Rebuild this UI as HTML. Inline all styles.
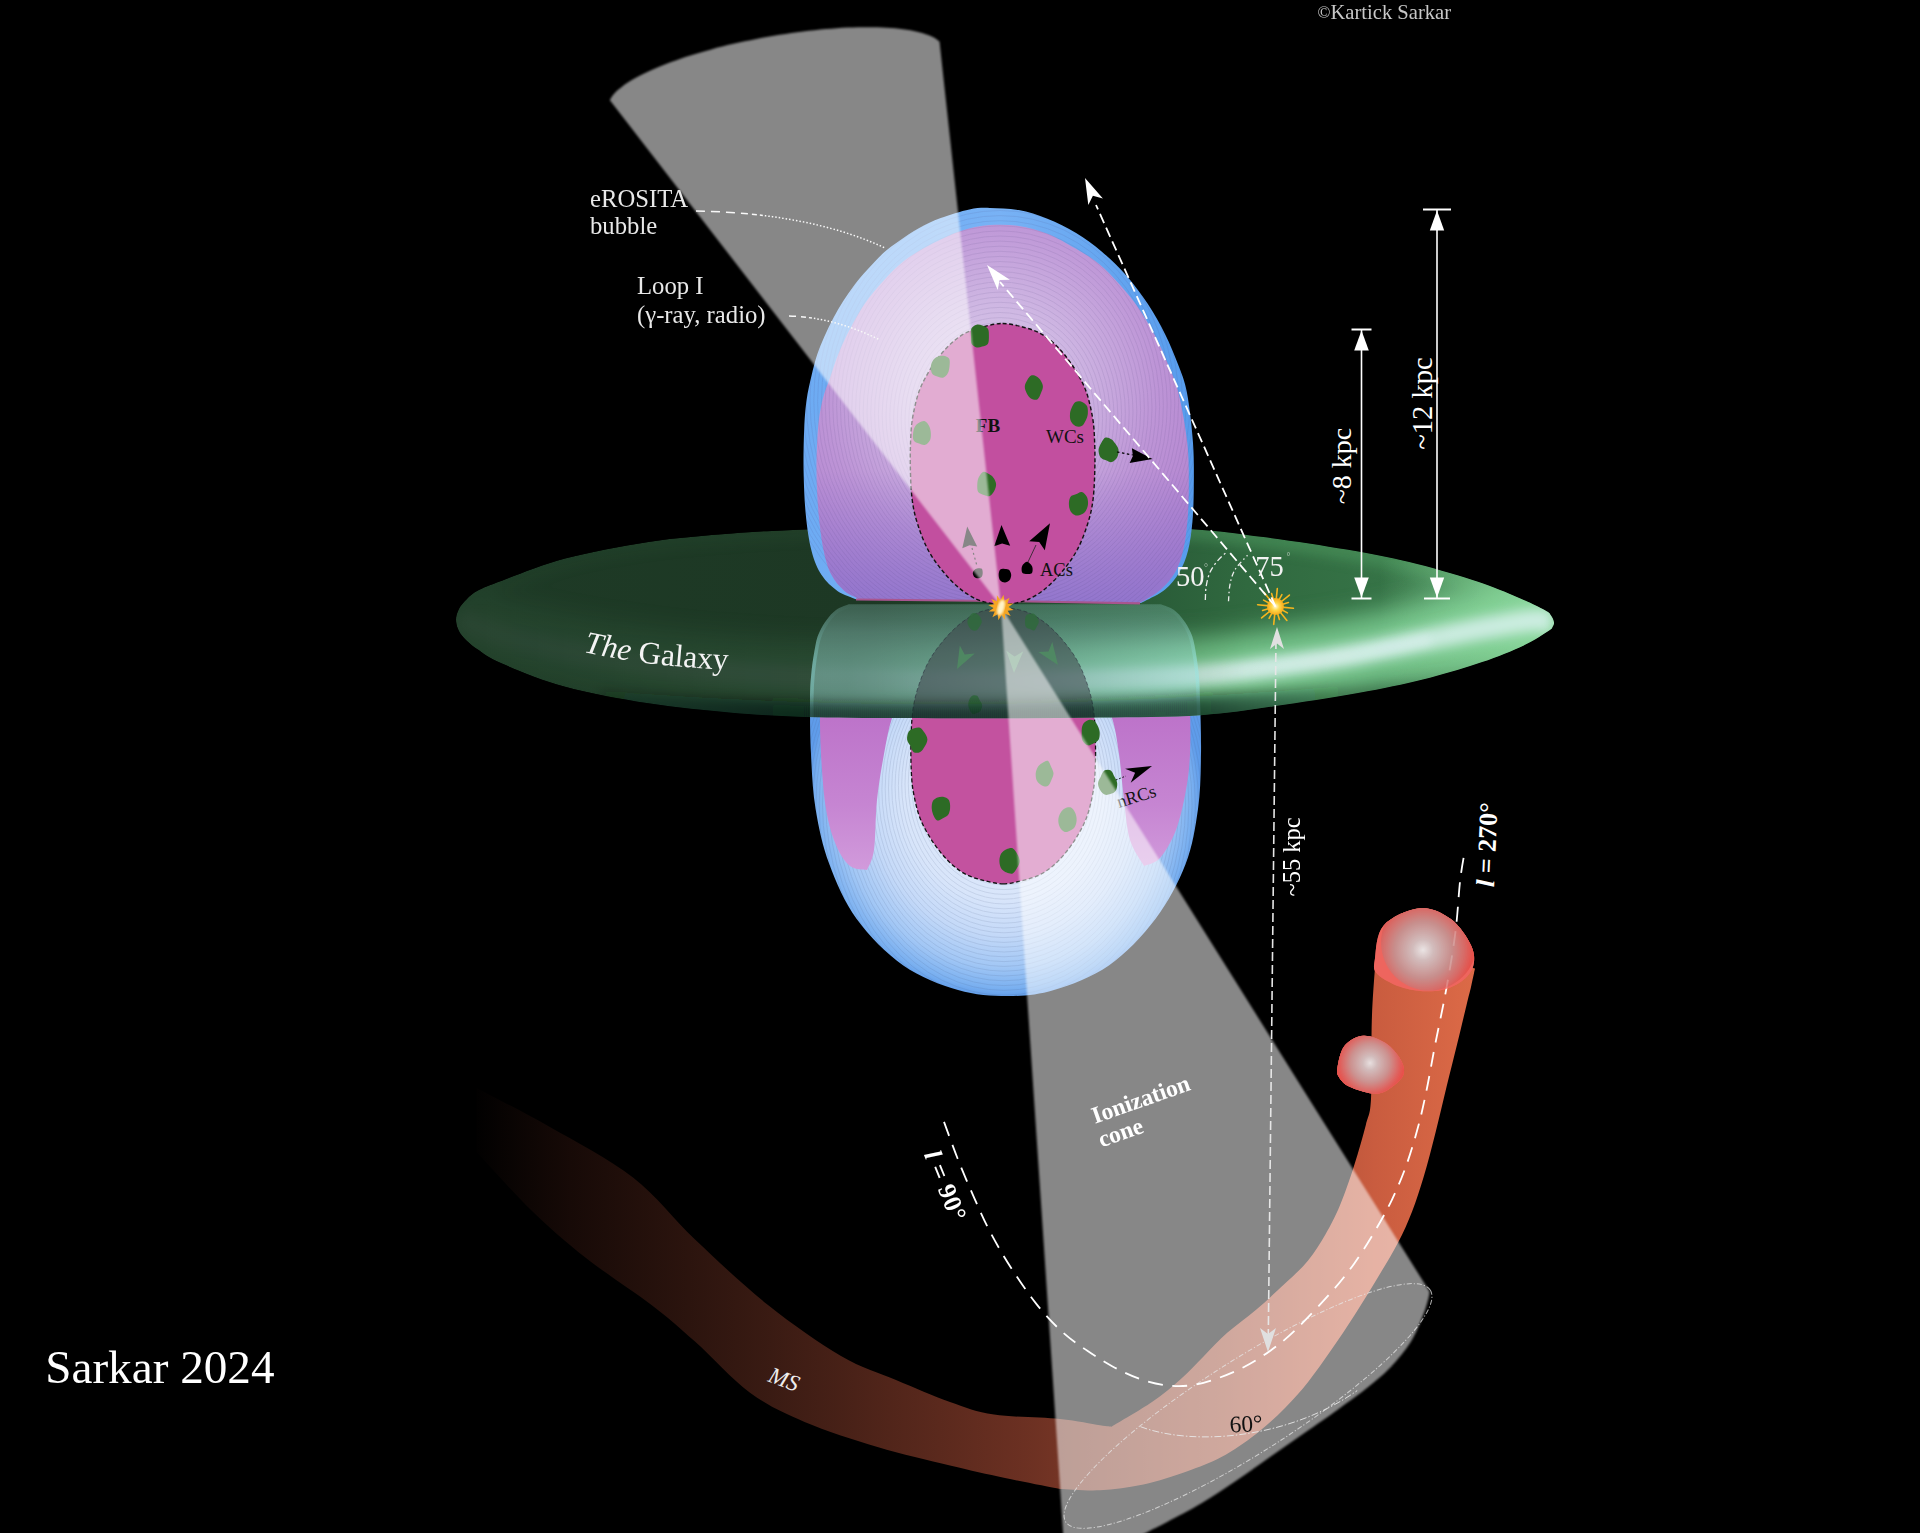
<!DOCTYPE html>
<html><head><meta charset="utf-8"><title>Fermi/eROSITA bubbles schematic</title>
<style>
html,body{margin:0;padding:0;background:#000;}
body{width:1920px;height:1533px;overflow:hidden;}
svg{display:block}
text{font-family:"Liberation Serif",serif;}
</style></head><body>
<svg width="1920" height="1533" viewBox="0 0 1920 1533">
<defs>

<radialGradient id="gPurple" gradientUnits="userSpaceOnUse" cx="990" cy="385" r="260">
 <stop offset="0" stop-color="#dccfec"/>
 <stop offset="0.3" stop-color="#cfb8e3"/>
 <stop offset="0.65" stop-color="#bd94d6"/>
 <stop offset="1" stop-color="#b07fce"/>
</radialGradient>
<linearGradient id="gPurpleBot" gradientUnits="userSpaceOnUse" x1="0" y1="470" x2="0" y2="605">
 <stop offset="0" stop-color="#8a72cc" stop-opacity="0"/>
 <stop offset="1" stop-color="#8a72cc" stop-opacity="0.8"/>
</linearGradient>
<linearGradient id="gBlueUp" gradientUnits="userSpaceOnUse" x1="800" y1="0" x2="1200" y2="0">
 <stop offset="0" stop-color="#6dabf3"/>
 <stop offset="0.5" stop-color="#78b2f5"/>
 <stop offset="1" stop-color="#559bec"/>
</linearGradient>
<radialGradient id="gBlueLow" gradientUnits="userSpaceOnUse" cx="1004" cy="800" r="198">
 <stop offset="0" stop-color="#e2ecfb"/>
 <stop offset="0.5" stop-color="#d8e5fa"/>
 <stop offset="0.68" stop-color="#c4d9f8"/>
 <stop offset="0.84" stop-color="#a2c7f5"/>
 <stop offset="0.95" stop-color="#7ab0f0"/>
 <stop offset="1" stop-color="#5f9cea"/>
</radialGradient>
<linearGradient id="gLobe" gradientUnits="userSpaceOnUse" x1="0" y1="700" x2="0" y2="875">
 <stop offset="0" stop-color="#bb70c8"/>
 <stop offset="0.6" stop-color="#c685d2"/>
 <stop offset="1" stop-color="#d29cdc"/>
</linearGradient>
<linearGradient id="gDiskBase" gradientUnits="userSpaceOnUse" x1="455" y1="0" x2="1555" y2="0">
 <stop offset="0" stop-color="#1e3a26"/>
 <stop offset="0.38" stop-color="#1d3824"/>
 <stop offset="0.55" stop-color="#245032"/>
 <stop offset="0.72" stop-color="#30693f"/>
 <stop offset="1" stop-color="#3d8050"/>
</linearGradient>
<linearGradient id="gDiskV" gradientUnits="userSpaceOnUse" x1="0" y1="528" x2="0" y2="716">
 <stop offset="0" stop-color="#4c9860" stop-opacity="0.5"/>
 <stop offset="0.2" stop-color="#2e6540" stop-opacity="0"/>
 <stop offset="0.4" stop-color="#3c8050" stop-opacity="0.2"/>
 <stop offset="0.6" stop-color="#62b078" stop-opacity="0.85"/>
 <stop offset="0.85" stop-color="#6ab880" stop-opacity="1"/>
 <stop offset="1" stop-color="#4a9060" stop-opacity="1"/>
</linearGradient>
<linearGradient id="gDiskMask" gradientUnits="userSpaceOnUse" x1="455" y1="0" x2="1555" y2="0">
 <stop offset="0" stop-color="#fff" stop-opacity="0.06"/>
 <stop offset="0.36" stop-color="#fff" stop-opacity="0.12"/>
 <stop offset="0.55" stop-color="#fff" stop-opacity="0.5"/>
 <stop offset="0.72" stop-color="#fff" stop-opacity="0.95"/>
 <stop offset="1" stop-color="#fff" stop-opacity="1"/>
</linearGradient>
<mask id="mDiskLight" maskUnits="userSpaceOnUse" x="440" y="500" width="1130" height="240"><rect x="440" y="500" width="1130" height="240" fill="url(#gDiskMask)"/></mask>
<radialGradient id="gDisk" cx="0.5" cy="0.5" r="0.5" fx="0.5" fy="0.2">
 <stop offset="0" stop-color="#2f6a42"/>
 <stop offset="0.45" stop-color="#2f6a42"/>
 <stop offset="0.62" stop-color="#4f9a64"/>
 <stop offset="0.76" stop-color="#9dd8b2"/>
 <stop offset="0.82" stop-color="#c2ebda"/>
 <stop offset="0.90" stop-color="#78c48c"/>
 <stop offset="1" stop-color="#4a9060"/>
</radialGradient>
<linearGradient id="gDiskDark" gradientUnits="userSpaceOnUse" x1="455" y1="0" x2="1555" y2="0">
 <stop offset="0" stop-color="#000" stop-opacity="0.45"/>
 <stop offset="0.35" stop-color="#000" stop-opacity="0.50"/>
 <stop offset="0.62" stop-color="#000" stop-opacity="0.25"/>
 <stop offset="0.8" stop-color="#000" stop-opacity="0"/>
</linearGradient>
<linearGradient id="gMS" gradientUnits="userSpaceOnUse" x1="470" y1="0" x2="1475" y2="0">
 <stop offset="0" stop-color="#000000"/>
 <stop offset="0.1" stop-color="#170a07"/>
 <stop offset="0.3" stop-color="#3a1b13"/>
 <stop offset="0.55" stop-color="#6b3022"/>
 <stop offset="0.75" stop-color="#9a4630"/>
 <stop offset="0.9" stop-color="#c95c3f"/>
 <stop offset="1" stop-color="#dc6a47"/>
</linearGradient>
<radialGradient id="gClump" cx="0.55" cy="0.45" r="0.55">
 <stop offset="0" stop-color="#d8d2d2"/>
 <stop offset="0.35" stop-color="#c9a9a8"/>
 <stop offset="0.7" stop-color="#dc6a64"/>
 <stop offset="1" stop-color="#e6453f"/>
</radialGradient>
<radialGradient id="gClump1" gradientUnits="userSpaceOnUse" cx="1423" cy="950" r="52">
 <stop offset="0" stop-color="#ebe4e4"/>
 <stop offset="0.2" stop-color="#d2bcbc"/>
 <stop offset="0.55" stop-color="#c88e8c"/>
 <stop offset="0.8" stop-color="#d86a66"/>
 <stop offset="0.95" stop-color="#e4504a" stop-opacity="0.9"/>
 <stop offset="1" stop-color="#e84a44" stop-opacity="0.6"/>
</radialGradient>
<radialGradient id="gClump2" gradientUnits="userSpaceOnUse" cx="1370" cy="1063" r="35">
 <stop offset="0" stop-color="#e8e0e0"/>
 <stop offset="0.2" stop-color="#d2bcbc"/>
 <stop offset="0.55" stop-color="#cc9290"/>
 <stop offset="0.85" stop-color="#e0605c"/>
 <stop offset="1" stop-color="#e84a44" stop-opacity="0.8"/>
</radialGradient>
<linearGradient id="gSeeThru" gradientUnits="userSpaceOnUse" x1="0" y1="603" x2="0" y2="720">
 <stop offset="0" stop-color="#a4e4e0" stop-opacity="0.22"/>
 <stop offset="0.25" stop-color="#a4e4e0" stop-opacity="0.36"/>
 <stop offset="0.6" stop-color="#a4e4e0" stop-opacity="0.44"/>
 <stop offset="1" stop-color="#a4e4e0" stop-opacity="0.40"/>
</linearGradient>
<linearGradient id="gSeeRim" gradientUnits="userSpaceOnUse" x1="0" y1="603" x2="0" y2="720">
 <stop offset="0" stop-color="#8fe6e6" stop-opacity="0"/>
 <stop offset="0.2" stop-color="#8fe6e6" stop-opacity="0.08"/>
 <stop offset="0.5" stop-color="#8fe6e6" stop-opacity="0.32"/>
 <stop offset="1" stop-color="#8fe6e6" stop-opacity="0.32"/>
</linearGradient>
<radialGradient id="gSun" cx="0.5" cy="0.5" r="0.5">
 <stop offset="0" stop-color="#fffbe0"/>
 <stop offset="0.45" stop-color="#ffd84a"/>
 <stop offset="1" stop-color="#f5a81a"/>
</radialGradient>
<filter id="fBlur2" x="-5%" y="-5%" width="110%" height="110%"><feGaussianBlur stdDeviation="1.3"/></filter>
<filter id="fBlur1" x="-5%" y="-5%" width="110%" height="110%"><feGaussianBlur stdDeviation="0.8"/></filter>
<filter id="fBlur12" filterUnits="userSpaceOnUse" x="380" y="460" width="1260" height="330"><feGaussianBlur stdDeviation="12"/></filter>
<filter id="fBlurBand" filterUnits="userSpaceOnUse" x="500" y="600" width="1100" height="200"><feGaussianBlur stdDeviation="6"/></filter>
<linearGradient id="gDarkBand" gradientUnits="userSpaceOnUse" x1="600" y1="0" x2="1480" y2="0">
 <stop offset="0" stop-color="#0a1a16" stop-opacity="0.2"/>
 <stop offset="0.22" stop-color="#0a1a16" stop-opacity="0.6"/>
 <stop offset="0.68" stop-color="#0a1a16" stop-opacity="0.6"/>
 <stop offset="0.85" stop-color="#0a1a16" stop-opacity="0.15"/>
 <stop offset="1" stop-color="#0a1a16" stop-opacity="0"/>
</linearGradient>
<filter id="fBlur5" filterUnits="userSpaceOnUse" x="380" y="460" width="1260" height="330"><feGaussianBlur stdDeviation="4.5"/></filter>
<linearGradient id="gDiskTip" gradientUnits="userSpaceOnUse" x1="1380" y1="0" x2="1556" y2="0">
 <stop offset="0" stop-color="#8fdca0" stop-opacity="0"/>
 <stop offset="0.6" stop-color="#8fdca0" stop-opacity="0.55"/>
 <stop offset="1" stop-color="#8fdca0" stop-opacity="0.9"/>
</linearGradient>
<filter id="fBlur6" filterUnits="userSpaceOnUse" x="380" y="460" width="1260" height="330"><feGaussianBlur stdDeviation="6"/></filter>
<clipPath id="cpDisk"><path d="M456.0,619.8 C456.0,616.8 456.7,614.0 458.0,611.0 C459.3,608.0 460.8,605.3 464.0,602.0 C467.2,598.7 470.6,594.6 477.0,591.0 C483.4,587.4 487.8,585.8 502.5,580.4 C517.2,575.0 540.7,564.9 565.0,558.5 C589.3,552.1 620.5,546.1 648.3,541.9 C676.1,537.7 705.7,535.6 731.7,533.5 C757.8,531.4 776.6,530.4 804.6,529.4 C832.6,528.4 867.4,527.7 900.0,527.3 C932.6,526.9 966.7,527.0 1000.0,527.0 C1033.3,527.0 1067.9,527.2 1100.0,527.6 C1132.1,528.0 1165.3,527.6 1192.5,529.2 C1219.7,530.8 1237.6,533.7 1263.3,537.1 C1289.0,540.5 1322.4,545.4 1346.7,549.6 C1371.0,553.8 1388.4,557.1 1409.2,562.1 C1430.0,567.1 1454.4,574.2 1471.7,579.8 C1489.0,585.3 1501.2,590.4 1513.3,595.4 C1525.4,600.4 1538.3,606.6 1544.6,610.0 C1550.9,613.4 1549.4,613.4 1551.0,615.5 C1552.6,617.6 1553.8,620.6 1554.0,622.5 C1554.2,624.4 1553.4,625.6 1552.5,627.0 C1551.6,628.4 1553.6,627.7 1548.8,630.8 C1544.0,633.9 1534.9,640.2 1523.8,645.4 C1512.7,650.6 1497.7,656.7 1482.1,662.1 C1466.5,667.5 1449.1,672.8 1430.0,677.7 C1410.9,682.6 1391.8,686.8 1367.5,691.3 C1343.2,695.8 1312.0,700.8 1284.2,704.8 C1256.4,708.8 1231.5,713.1 1200.8,715.2 C1170.1,717.3 1133.5,717.1 1100.0,717.6 C1066.5,718.1 1033.3,718.1 1000.0,718.2 C966.7,718.3 932.6,718.2 900.0,718.0 C867.4,717.8 832.6,717.8 804.6,716.9 C776.6,716.0 757.8,715.0 731.7,712.7 C705.7,710.4 676.1,707.6 648.3,703.3 C620.5,699.0 589.3,693.3 565.0,686.7 C540.7,680.1 517.2,670.1 502.5,663.8 C487.8,657.5 483.4,653.3 477.0,649.0 C470.6,644.7 467.2,641.3 464.0,638.0 C460.8,634.7 459.3,632.0 458.0,629.0 C456.7,626.0 456.0,622.8 456.0,619.8Z"/></clipPath>
<clipPath id="cpLB"><path d="M848.5,604.3 C846.4,605.2 839.6,607.4 836.0,610.0 C832.4,612.6 829.4,616.3 826.6,620.0 C823.9,623.7 821.3,627.9 819.5,632.0 C817.7,636.1 816.9,638.1 815.6,644.8 C814.3,651.5 812.4,662.8 811.5,672.0 C810.6,681.2 810.1,686.3 810.0,700.0 C809.9,713.7 810.1,735.8 811.0,754.0 C811.9,772.2 812.6,790.7 815.6,809.0 C818.6,827.3 822.4,845.7 829.3,864.0 C836.1,882.3 844.4,902.0 856.7,918.9 C869.0,935.8 886.4,953.5 903.3,965.4 C920.2,977.2 940.6,984.9 958.0,990.0 C975.4,995.1 991.5,996.0 1007.5,996.0 C1023.5,996.0 1037.1,995.1 1054.0,990.0 C1070.9,984.9 1092.0,977.2 1108.9,965.4 C1125.8,953.5 1142.6,935.8 1155.4,918.9 C1168.2,902.0 1178.5,882.3 1185.6,864.0 C1192.7,845.7 1195.4,827.3 1198.0,809.0 C1200.6,790.7 1200.7,772.2 1201.0,754.0 C1201.3,735.8 1200.4,713.7 1200.0,700.0 C1199.6,686.3 1199.4,681.2 1198.5,672.0 C1197.6,662.8 1195.7,651.5 1194.4,644.8 C1193.1,638.1 1192.3,636.1 1190.5,632.0 C1188.7,627.9 1186.2,623.7 1183.4,620.0 C1180.7,616.3 1177.7,612.6 1174.0,610.0 C1170.3,607.4 1163.2,605.2 1161.0,604.3Z"/></clipPath>
<clipPath id="cpUBo"><path d="M856.0,599.2 C852.9,597.8 843.1,594.9 837.4,590.9 C831.7,586.9 825.9,581.8 821.6,575.1 C817.3,568.4 814.1,560.8 811.5,550.7 C808.9,540.7 807.1,527.9 805.8,514.8 C804.5,501.6 803.9,486.1 803.6,471.8 C803.3,457.5 803.7,440.7 804.2,428.7 C804.7,416.7 805.4,408.8 806.6,400.0 C807.8,391.2 809.7,383.4 811.5,375.8 C813.3,368.2 815.1,360.9 817.3,354.3 C819.4,347.7 821.8,342.4 824.4,336.4 C827.0,330.4 830.0,324.3 833.1,318.4 C836.2,312.5 839.5,306.8 843.1,301.2 C846.7,295.6 850.5,290.0 854.6,284.7 C858.7,279.4 862.7,274.9 867.5,269.6 C872.3,264.3 878.0,257.9 883.3,253.1 C888.6,248.3 893.1,245.1 899.1,240.9 C905.1,236.7 912.3,231.8 919.2,228.0 C926.1,224.2 932.3,221.1 940.7,218.0 C949.1,214.9 961.2,211.1 969.4,209.4 C977.6,207.7 981.8,207.8 990.0,207.9 C998.2,208.0 1009.1,208.3 1018.7,210.1 C1028.3,211.9 1037.8,214.9 1047.4,218.7 C1057.0,222.5 1067.0,227.5 1076.1,233.0 C1085.2,238.5 1093.5,244.6 1101.9,251.7 C1110.3,258.8 1118.6,266.7 1126.3,275.4 C1134.0,284.1 1141.4,294.3 1147.9,304.1 C1154.4,313.9 1160.1,324.2 1165.1,334.2 C1170.1,344.2 1174.3,354.5 1178.0,364.3 C1181.7,374.1 1184.5,379.9 1187.0,393.0 C1189.5,406.1 1191.9,427.5 1193.0,443.0 C1194.1,458.5 1193.9,472.9 1193.8,486.1 C1193.7,499.3 1193.4,511.2 1192.4,522.0 C1191.4,532.8 1190.2,542.3 1188.0,550.7 C1185.8,559.1 1183.2,565.8 1179.4,572.2 C1175.6,578.7 1170.8,584.6 1165.1,589.4 C1159.4,594.2 1149.3,598.6 1145.0,600.9 C1140.7,603.2 1140.2,602.9 1139.3,603.3Z"/></clipPath>
<clipPath id="cpUBp"><path d="M860.0,599.2 C857.4,597.8 849.2,594.9 844.5,590.9 C839.8,586.9 835.1,581.8 831.6,575.1 C828.1,568.4 825.9,560.8 823.7,550.7 C821.6,540.7 819.9,527.9 818.7,514.8 C817.5,501.6 816.6,486.1 816.5,471.8 C816.4,457.5 817.0,440.7 818.0,428.7 C819.0,416.7 820.5,408.6 822.5,400.0 C824.5,391.4 827.5,385.2 830.2,377.3 C832.9,369.4 835.4,361.0 838.8,352.9 C842.1,344.8 846.0,336.6 850.3,328.5 C854.6,320.4 859.1,312.0 864.6,304.1 C870.1,296.2 876.6,288.4 883.3,281.1 C890.0,273.8 896.4,266.6 904.8,260.3 C913.2,254.0 924.2,248.0 933.5,243.1 C942.8,238.2 951.4,233.9 960.8,230.9 C970.2,227.9 980.4,225.9 990.0,225.1 C999.6,224.3 1009.1,224.5 1018.7,225.9 C1028.3,227.3 1037.8,229.9 1047.4,233.7 C1057.0,237.5 1067.5,243.8 1076.1,248.8 C1084.7,253.8 1091.9,258.0 1099.1,263.9 C1106.3,269.8 1112.8,276.8 1119.2,284.0 C1125.7,291.2 1131.8,298.3 1137.8,306.9 C1143.8,315.5 1150.0,326.0 1155.0,335.6 C1160.0,345.2 1164.1,354.7 1168.0,364.3 C1171.9,373.9 1175.3,379.9 1178.5,393.0 C1181.7,406.1 1185.6,427.5 1187.3,443.0 C1189.0,458.5 1188.8,472.9 1188.8,486.1 C1188.8,499.3 1188.3,511.2 1187.3,522.0 C1186.3,532.8 1185.0,542.3 1183.0,550.7 C1181.0,559.1 1178.8,565.8 1175.1,572.2 C1171.4,578.7 1166.3,584.5 1160.8,589.4 C1155.3,594.3 1145.9,599.3 1142.1,601.6 C1138.3,603.9 1138.7,603.0 1138.0,603.3Z"/></clipPath>
</defs>
<rect width="1920" height="1533" fill="#000"/>
<g id="lb">
<path d="M848.5,604.3 C846.4,605.2 839.6,607.4 836.0,610.0 C832.4,612.6 829.4,616.3 826.6,620.0 C823.9,623.7 821.3,627.9 819.5,632.0 C817.7,636.1 816.9,638.1 815.6,644.8 C814.3,651.5 812.4,662.8 811.5,672.0 C810.6,681.2 810.1,686.3 810.0,700.0 C809.9,713.7 810.1,735.8 811.0,754.0 C811.9,772.2 812.6,790.7 815.6,809.0 C818.6,827.3 822.4,845.7 829.3,864.0 C836.1,882.3 844.4,902.0 856.7,918.9 C869.0,935.8 886.4,953.5 903.3,965.4 C920.2,977.2 940.6,984.9 958.0,990.0 C975.4,995.1 991.5,996.0 1007.5,996.0 C1023.5,996.0 1037.1,995.1 1054.0,990.0 C1070.9,984.9 1092.0,977.2 1108.9,965.4 C1125.8,953.5 1142.6,935.8 1155.4,918.9 C1168.2,902.0 1178.5,882.3 1185.6,864.0 C1192.7,845.7 1195.4,827.3 1198.0,809.0 C1200.6,790.7 1200.7,772.2 1201.0,754.0 C1201.3,735.8 1200.4,713.7 1200.0,700.0 C1199.6,686.3 1199.4,681.2 1198.5,672.0 C1197.6,662.8 1195.7,651.5 1194.4,644.8 C1193.1,638.1 1192.3,636.1 1190.5,632.0 C1188.7,627.9 1186.2,623.7 1183.4,620.0 C1180.7,616.3 1177.7,612.6 1174.0,610.0 C1170.3,607.4 1163.2,605.2 1161.0,604.3Z" fill="url(#gBlueLow)"/>
<g clip-path="url(#cpLB)" fill="none" stroke="#4a5a80" stroke-width="1" opacity="0.13">
<ellipse cx="1004" cy="764.8" rx="19.8" ry="24.0"/><ellipse cx="1004" cy="765.6" rx="23.1" ry="28.0"/><ellipse cx="1004" cy="766.4" rx="26.4" ry="32.0"/><ellipse cx="1004" cy="767.2" rx="29.7" ry="36.0"/><ellipse cx="1004" cy="768.0" rx="33.0" ry="40.0"/><ellipse cx="1004" cy="768.8" rx="36.3" ry="44.0"/><ellipse cx="1004" cy="769.6" rx="39.6" ry="48.0"/><ellipse cx="1004" cy="770.4" rx="42.9" ry="52.0"/><ellipse cx="1004" cy="771.2" rx="46.2" ry="56.0"/><ellipse cx="1004" cy="772.0" rx="49.5" ry="60.0"/><ellipse cx="1004" cy="772.8" rx="52.8" ry="64.0"/><ellipse cx="1004" cy="773.6" rx="56.1" ry="68.0"/><ellipse cx="1004" cy="774.4" rx="59.4" ry="72.0"/><ellipse cx="1004" cy="775.2" rx="62.7" ry="76.0"/><ellipse cx="1004" cy="776.0" rx="66.0" ry="80.0"/><ellipse cx="1004" cy="776.8" rx="69.3" ry="84.0"/><ellipse cx="1004" cy="777.6" rx="72.6" ry="88.0"/><ellipse cx="1004" cy="778.4" rx="75.9" ry="92.0"/><ellipse cx="1004" cy="779.2" rx="79.2" ry="96.0"/><ellipse cx="1004" cy="780.0" rx="82.5" ry="100.0"/><ellipse cx="1004" cy="780.8" rx="85.8" ry="104.0"/><ellipse cx="1004" cy="781.6" rx="89.1" ry="108.0"/><ellipse cx="1004" cy="782.4" rx="92.4" ry="112.0"/><ellipse cx="1004" cy="783.2" rx="95.7" ry="116.0"/><ellipse cx="1004" cy="784.0" rx="99.0" ry="120.0"/><ellipse cx="1004" cy="784.8" rx="102.3" ry="124.0"/><ellipse cx="1004" cy="785.6" rx="105.6" ry="128.0"/><ellipse cx="1004" cy="786.4" rx="108.9" ry="132.0"/><ellipse cx="1004" cy="787.2" rx="112.2" ry="136.0"/><ellipse cx="1004" cy="788.0" rx="115.5" ry="140.0"/><ellipse cx="1004" cy="788.8" rx="118.8" ry="144.0"/><ellipse cx="1004" cy="789.6" rx="122.1" ry="148.0"/><ellipse cx="1004" cy="790.4" rx="125.4" ry="152.0"/><ellipse cx="1004" cy="791.2" rx="128.7" ry="156.0"/><ellipse cx="1004" cy="792.0" rx="132.0" ry="160.0"/><ellipse cx="1004" cy="792.8" rx="135.3" ry="164.0"/><ellipse cx="1004" cy="793.6" rx="138.6" ry="168.0"/><ellipse cx="1004" cy="794.4" rx="141.9" ry="172.0"/><ellipse cx="1004" cy="795.2" rx="145.2" ry="176.0"/><ellipse cx="1004" cy="796.0" rx="148.5" ry="180.0"/><ellipse cx="1004" cy="796.8" rx="151.8" ry="184.0"/><ellipse cx="1004" cy="797.6" rx="155.1" ry="188.0"/><ellipse cx="1004" cy="798.4" rx="158.4" ry="192.0"/><ellipse cx="1004" cy="799.2" rx="161.7" ry="196.0"/><ellipse cx="1004" cy="800.0" rx="165.0" ry="200.0"/><ellipse cx="1004" cy="800.8" rx="168.3" ry="204.0"/><ellipse cx="1004" cy="801.6" rx="171.6" ry="208.0"/><ellipse cx="1004" cy="802.4" rx="174.9" ry="212.0"/><ellipse cx="1004" cy="803.2" rx="178.2" ry="216.0"/><ellipse cx="1004" cy="804.0" rx="181.5" ry="220.0"/><ellipse cx="1004" cy="804.8" rx="184.8" ry="224.0"/><ellipse cx="1004" cy="805.6" rx="188.1" ry="228.0"/><ellipse cx="1004" cy="806.4" rx="191.4" ry="232.0"/><ellipse cx="1004" cy="807.2" rx="194.7" ry="236.0"/><ellipse cx="1004" cy="808.0" rx="198.0" ry="240.0"/><ellipse cx="1004" cy="808.8" rx="201.3" ry="244.0"/><ellipse cx="1004" cy="809.6" rx="204.6" ry="248.0"/><ellipse cx="1004" cy="810.4" rx="207.9" ry="252.0"/></g>
<path d="M832.0,606.0 C830.3,611.7 824.0,624.3 822.0,640.0 C820.0,655.7 820.2,681.0 820.0,700.0 C819.8,719.0 820.0,735.8 821.0,754.0 C822.0,772.2 823.5,793.8 826.0,809.0 C828.5,824.2 832.0,835.5 836.0,845.0 C840.0,854.5 844.8,861.8 850.0,866.0 C855.2,870.2 864.2,869.3 867.0,870.0 C868.2,866.7 872.3,861.7 874.0,850.0 C875.7,838.3 875.3,816.0 877.0,800.0 C878.7,784.0 881.5,767.7 884.0,754.0 C886.5,740.3 888.5,728.7 892.0,718.0 C895.5,707.3 899.5,701.3 905.0,690.0 C910.5,678.7 915.8,662.5 925.0,650.0 C934.2,637.5 947.3,622.3 960.0,615.0 C972.7,607.7 994.2,607.5 1001.0,606.0 C1008.3,607.5 1031.8,607.7 1045.0,615.0 C1058.2,622.3 1071.2,637.5 1080.0,650.0 C1088.8,662.5 1092.7,678.7 1098.0,690.0 C1103.3,701.3 1108.5,707.3 1112.0,718.0 C1115.5,728.7 1117.0,740.3 1119.0,754.0 C1121.0,767.7 1122.2,785.7 1124.0,800.0 C1125.8,814.3 1126.7,829.0 1130.0,840.0 C1133.3,851.0 1141.7,861.7 1144.0,866.0 C1146.7,864.7 1154.7,864.0 1160.0,858.0 C1165.3,852.0 1171.7,841.3 1176.0,830.0 C1180.3,818.7 1183.7,802.7 1186.0,790.0 C1188.3,777.3 1189.3,769.0 1190.0,754.0 C1190.7,739.0 1190.3,719.0 1190.0,700.0 C1189.7,681.0 1190.3,655.7 1188.0,640.0 C1185.7,624.3 1178.0,611.7 1176.0,606.0Z" fill="url(#gLobe)"/>
<path d="M1003.2,883.8 C1009.9,883.8 1017.0,881.9 1023.2,880.4 C1029.4,878.8 1035.0,877.1 1040.2,874.5 C1045.4,871.9 1049.9,868.4 1054.2,864.7 C1058.5,860.9 1062.4,856.6 1066.2,851.9 C1070.0,847.2 1073.9,841.7 1077.2,836.2 C1080.5,830.6 1083.8,824.7 1086.2,818.5 C1088.6,812.3 1090.3,805.6 1091.7,798.9 C1093.1,792.2 1094.1,787.2 1094.7,778.2 C1095.3,769.2 1095.7,756.0 1095.5,744.9 C1095.3,733.7 1094.9,721.1 1093.7,711.5 C1092.5,701.8 1090.9,695.3 1088.2,686.9 C1085.5,678.6 1081.9,669.1 1077.7,661.4 C1073.5,653.7 1068.4,647.0 1063.2,640.8 C1058.0,634.5 1052.3,628.7 1046.7,624.1 C1041.1,619.5 1034.9,615.8 1029.7,613.3 C1024.4,610.8 1019.6,609.9 1015.2,609.0 C1010.8,608.1 1007.2,607.9 1003.2,607.9 C999.2,607.9 995.6,608.1 991.2,609.0 C986.8,609.9 982.0,610.8 976.7,613.3 C971.5,615.8 965.3,619.5 959.7,624.1 C954.1,628.7 948.4,634.5 943.2,640.8 C938.0,647.0 932.9,653.7 928.7,661.4 C924.5,669.1 920.9,678.6 918.2,686.9 C915.5,695.3 913.9,701.8 912.7,711.5 C911.5,721.1 911.1,733.7 910.9,744.9 C910.7,756.0 911.1,769.2 911.7,778.2 C912.3,787.2 913.3,792.2 914.7,798.9 C916.1,805.6 917.8,812.3 920.2,818.5 C922.6,824.7 925.9,830.6 929.2,836.2 C932.5,841.7 936.4,847.2 940.2,851.9 C944.0,856.6 947.9,860.9 952.2,864.7 C956.5,868.4 961.0,871.9 966.2,874.5 C971.4,877.1 977.0,878.8 983.2,880.4 C989.4,881.9 996.5,883.8 1003.2,883.8Z" fill="#c3529f" stroke="#111" stroke-width="1.3" stroke-dasharray="4 2.5"/>
<path d="M927.4,739.4 C927.4,741.7 925.9,744.4 924.7,746.5 C923.5,748.6 922.1,751.1 920.2,752.0 C918.4,753.0 915.4,753.2 913.7,752.2 C912.0,751.1 911.3,747.8 910.2,745.6 C909.1,743.5 907.4,741.7 907.1,739.4 C906.9,737.1 907.5,733.6 908.6,731.7 C909.8,729.9 912.3,729.0 914.2,728.3 C916.0,727.7 918.3,727.0 920.0,727.7 C921.7,728.4 923.2,730.6 924.4,732.6 C925.7,734.5 927.3,737.1 927.4,739.4Z" fill="#2d6b25" />
<path d="M1099.7,732.5 C1099.8,734.7 1099.7,737.8 1098.7,739.6 C1097.8,741.4 1095.6,742.4 1093.8,743.3 C1091.9,744.3 1089.6,745.8 1087.7,745.3 C1085.8,744.8 1083.4,742.5 1082.4,740.4 C1081.4,738.2 1081.6,735.1 1081.7,732.5 C1081.7,729.9 1081.6,726.9 1082.7,724.9 C1083.7,722.8 1086.0,721.0 1087.9,720.3 C1089.8,719.6 1092.4,719.7 1094.0,720.7 C1095.7,721.7 1097.0,724.2 1097.9,726.2 C1098.8,728.1 1099.6,730.3 1099.7,732.5Z" fill="#2d6b25" />
<path d="M1053.5,773.6 C1053.5,775.7 1052.4,777.9 1051.4,780.0 C1050.5,782.1 1049.4,785.2 1047.7,786.1 C1046.1,787.0 1043.3,786.1 1041.5,785.2 C1039.7,784.3 1037.8,782.6 1036.8,780.6 C1035.9,778.7 1035.6,775.8 1035.7,773.6 C1035.9,771.4 1036.7,769.1 1037.7,767.3 C1038.7,765.6 1040.2,764.4 1041.9,763.3 C1043.5,762.2 1046.2,760.2 1047.8,760.8 C1049.4,761.5 1050.4,765.2 1051.3,767.3 C1052.3,769.5 1053.5,771.5 1053.5,773.6Z" fill="#2d6b25" />
<path d="M950.1,807.9 C950.0,810.4 949.2,813.3 948.0,815.0 C946.8,816.7 944.8,817.2 942.9,818.2 C941.1,819.1 938.7,821.1 937.1,820.5 C935.4,819.9 934.0,816.6 933.1,814.5 C932.2,812.4 931.8,810.1 931.7,807.9 C931.7,805.7 931.9,802.8 932.9,801.1 C933.9,799.4 935.9,798.3 937.6,797.6 C939.3,796.9 941.3,796.4 943.1,796.8 C945.0,797.3 947.7,798.2 948.9,800.0 C950.0,801.9 950.3,805.4 950.1,807.9Z" fill="#2d6b25" />
<path d="M1076.6,820.2 C1076.5,822.4 1075.9,825.0 1074.9,826.7 C1073.9,828.4 1072.1,829.6 1070.4,830.5 C1068.8,831.4 1066.5,832.5 1064.8,831.9 C1063.0,831.4 1061.1,829.3 1060.0,827.4 C1058.9,825.4 1058.2,822.5 1058.3,820.2 C1058.3,817.9 1059.2,815.3 1060.3,813.3 C1061.4,811.4 1063.0,809.4 1064.8,808.5 C1066.6,807.5 1069.3,806.8 1071.0,807.6 C1072.8,808.4 1074.4,811.2 1075.4,813.3 C1076.3,815.4 1076.7,818.0 1076.6,820.2Z" fill="#2d6b25" />
<path d="M1019.8,861.3 C1019.8,863.6 1018.2,866.1 1017.0,868.1 C1015.8,870.1 1014.4,872.7 1012.7,873.5 C1011.0,874.2 1008.6,873.3 1006.7,872.6 C1004.8,871.8 1002.7,870.7 1001.4,868.8 C1000.2,866.9 999.4,863.8 999.4,861.3 C999.3,858.8 1000.0,855.6 1001.2,853.6 C1002.4,851.6 1004.6,850.2 1006.5,849.3 C1008.5,848.5 1011.1,847.6 1012.9,848.4 C1014.7,849.2 1016.2,852.0 1017.4,854.2 C1018.5,856.3 1019.9,859.0 1019.8,861.3Z" fill="#2d6b25" />
<path d="M1117.2,783.2 C1117.4,785.5 1116.8,788.9 1115.7,790.7 C1114.5,792.5 1112.2,793.5 1110.3,794.1 C1108.5,794.8 1106.3,795.3 1104.6,794.6 C1102.9,793.9 1101.2,791.9 1100.1,790.0 C1099.0,788.1 1097.9,785.4 1098.0,783.2 C1098.1,781.0 1099.6,779.0 1100.6,776.9 C1101.7,774.8 1102.6,771.7 1104.3,770.6 C1106.0,769.5 1109.1,769.4 1110.8,770.4 C1112.5,771.4 1113.4,774.7 1114.5,776.8 C1115.5,778.9 1117.0,780.9 1117.2,783.2Z" fill="#2d6b25" />
</g>
<g id="disk" clip-path="url(#cpDisk)">
<path d="M456.0,619.8 C456.0,616.8 456.7,614.0 458.0,611.0 C459.3,608.0 460.8,605.3 464.0,602.0 C467.2,598.7 470.6,594.6 477.0,591.0 C483.4,587.4 487.8,585.8 502.5,580.4 C517.2,575.0 540.7,564.9 565.0,558.5 C589.3,552.1 620.5,546.1 648.3,541.9 C676.1,537.7 705.7,535.6 731.7,533.5 C757.8,531.4 776.6,530.4 804.6,529.4 C832.6,528.4 867.4,527.7 900.0,527.3 C932.6,526.9 966.7,527.0 1000.0,527.0 C1033.3,527.0 1067.9,527.2 1100.0,527.6 C1132.1,528.0 1165.3,527.6 1192.5,529.2 C1219.7,530.8 1237.6,533.7 1263.3,537.1 C1289.0,540.5 1322.4,545.4 1346.7,549.6 C1371.0,553.8 1388.4,557.1 1409.2,562.1 C1430.0,567.1 1454.4,574.2 1471.7,579.8 C1489.0,585.3 1501.2,590.4 1513.3,595.4 C1525.4,600.4 1538.3,606.6 1544.6,610.0 C1550.9,613.4 1549.4,613.4 1551.0,615.5 C1552.6,617.6 1553.8,620.6 1554.0,622.5 C1554.2,624.4 1553.4,625.6 1552.5,627.0 C1551.6,628.4 1553.6,627.7 1548.8,630.8 C1544.0,633.9 1534.9,640.2 1523.8,645.4 C1512.7,650.6 1497.7,656.7 1482.1,662.1 C1466.5,667.5 1449.1,672.8 1430.0,677.7 C1410.9,682.6 1391.8,686.8 1367.5,691.3 C1343.2,695.8 1312.0,700.8 1284.2,704.8 C1256.4,708.8 1231.5,713.1 1200.8,715.2 C1170.1,717.3 1133.5,717.1 1100.0,717.6 C1066.5,718.1 1033.3,718.1 1000.0,718.2 C966.7,718.3 932.6,718.2 900.0,718.0 C867.4,717.8 832.6,717.8 804.6,716.9 C776.6,716.0 757.8,715.0 731.7,712.7 C705.7,710.4 676.1,707.6 648.3,703.3 C620.5,699.0 589.3,693.3 565.0,686.7 C540.7,680.1 517.2,670.1 502.5,663.8 C487.8,657.5 483.4,653.3 477.0,649.0 C470.6,644.7 467.2,641.3 464.0,638.0 C460.8,634.7 459.3,632.0 458.0,629.0 C456.7,626.0 456.0,622.8 456.0,619.8Z" fill="url(#gDiskBase)"/>
<g mask="url(#mDiskLight)">
<path d="M456.0,619.8 C456.3,618.3 456.7,614.0 458.0,611.0 C459.3,608.0 460.8,605.3 464.0,602.0 C467.2,598.7 470.6,594.6 477.0,591.0 C483.4,587.4 487.8,585.8 502.5,580.4 C517.2,575.0 540.7,564.9 565.0,558.5 C589.3,552.1 620.5,546.1 648.3,541.9 C676.1,537.7 705.7,535.6 731.7,533.5 C757.8,531.4 776.6,530.4 804.6,529.4 C832.6,528.4 867.4,527.7 900.0,527.3 C932.6,526.9 966.7,527.0 1000.0,527.0 C1033.3,527.0 1067.9,527.2 1100.0,527.6 C1132.1,528.0 1165.3,527.6 1192.5,529.2 C1219.7,530.8 1237.6,533.7 1263.3,537.1 C1289.0,540.5 1322.4,545.4 1346.7,549.6 C1371.0,553.8 1388.4,557.1 1409.2,562.1 C1430.0,567.1 1454.4,574.2 1471.7,579.8 C1489.0,585.3 1501.2,590.4 1513.3,595.4 C1525.4,600.4 1538.3,606.6 1544.6,610.0 C1550.9,613.4 1549.4,613.4 1551.0,615.5 C1552.6,617.6 1553.5,621.3 1554.0,622.5" fill="none" stroke="#4f9a60" stroke-width="22" filter="url(#fBlur6)" opacity="0.55"/>
<path d="M458.0,618.0 C461.7,619.7 469.7,624.2 480.0,628.0 C490.3,631.8 500.0,636.2 520.0,641.0 C540.0,645.8 570.0,652.2 600.0,657.0 C630.0,661.8 666.7,666.7 700.0,670.0 C733.3,673.3 766.7,675.2 800.0,677.0 C833.3,678.8 866.7,680.2 900.0,681.0 C933.3,681.8 966.7,682.2 1000.0,682.0 C1033.3,681.8 1066.7,681.2 1100.0,680.0 C1133.3,678.8 1172.8,677.0 1200.0,675.0 C1227.2,673.0 1238.5,671.2 1263.0,668.0 C1287.5,664.8 1318.9,660.6 1346.7,655.8 C1374.5,651.0 1405.7,643.9 1430.0,639.0 C1454.3,634.1 1475.2,629.8 1492.5,626.7 C1509.8,623.6 1524.1,621.2 1534.0,620.4 C1543.9,619.6 1549.0,621.7 1552.0,622.0" fill="none" stroke="#74c48a" stroke-width="74" filter="url(#fBlur12)"/>
<rect x="1380" y="560" width="190" height="130" fill="url(#gDiskTip)"/>
<path d="M458.0,618.0 C461.7,619.7 469.7,624.2 480.0,628.0 C490.3,631.8 500.0,636.2 520.0,641.0 C540.0,645.8 570.0,652.2 600.0,657.0 C630.0,661.8 666.7,666.7 700.0,670.0 C733.3,673.3 766.7,675.2 800.0,677.0 C833.3,678.8 866.7,680.2 900.0,681.0 C933.3,681.8 966.7,682.2 1000.0,682.0 C1033.3,681.8 1066.7,681.2 1100.0,680.0 C1133.3,678.8 1172.8,677.0 1200.0,675.0 C1227.2,673.0 1238.5,671.2 1263.0,668.0 C1287.5,664.8 1318.9,660.6 1346.7,655.8 C1374.5,651.0 1405.7,643.9 1430.0,639.0 C1454.3,634.1 1475.2,629.8 1492.5,626.7 C1509.8,623.6 1524.1,621.2 1534.0,620.4 C1543.9,619.6 1549.0,621.7 1552.0,622.0" fill="none" stroke="#cdeee2" stroke-width="22" filter="url(#fBlur6)"/>
<path d="M900.0,681.0 C916.7,681.2 966.7,682.2 1000.0,682.0 C1033.3,681.8 1066.7,681.2 1100.0,680.0 C1133.3,678.8 1172.8,677.0 1200.0,675.0 C1227.2,673.0 1238.5,671.2 1263.0,668.0 C1287.5,664.8 1318.9,660.6 1346.7,655.8 C1374.5,651.0 1416.1,641.8 1430.0,639.0" fill="none" stroke="#dcf2f0" stroke-width="8" filter="url(#fBlur5)" opacity="0.8"/>
</g>
</g>
<g clip-path="url(#cpDisk)">
<path d="M848.5,604.3 C846.4,605.2 839.6,607.4 836.0,610.0 C832.4,612.6 829.4,616.3 826.6,620.0 C823.9,623.7 821.3,627.9 819.5,632.0 C817.7,636.1 816.9,638.1 815.6,644.8 C814.3,651.5 812.4,662.8 811.5,672.0 C810.6,681.2 810.1,686.3 810.0,700.0 C809.9,713.7 810.1,735.8 811.0,754.0 C811.9,772.2 812.6,790.7 815.6,809.0 C818.6,827.3 822.4,845.7 829.3,864.0 C836.1,882.3 844.4,902.0 856.7,918.9 C869.0,935.8 886.4,953.5 903.3,965.4 C920.2,977.2 940.6,984.9 958.0,990.0 C975.4,995.1 991.5,996.0 1007.5,996.0 C1023.5,996.0 1037.1,995.1 1054.0,990.0 C1070.9,984.9 1092.0,977.2 1108.9,965.4 C1125.8,953.5 1142.6,935.8 1155.4,918.9 C1168.2,902.0 1178.5,882.3 1185.6,864.0 C1192.7,845.7 1195.4,827.3 1198.0,809.0 C1200.6,790.7 1200.7,772.2 1201.0,754.0 C1201.3,735.8 1200.4,713.7 1200.0,700.0 C1199.6,686.3 1199.4,681.2 1198.5,672.0 C1197.6,662.8 1195.7,651.5 1194.4,644.8 C1193.1,638.1 1192.3,636.1 1190.5,632.0 C1188.7,627.9 1186.2,623.7 1183.4,620.0 C1180.7,616.3 1177.7,612.6 1174.0,610.0 C1170.3,607.4 1163.2,605.2 1161.0,604.3Z" fill="url(#gSeeThru)"/>
<path d="M848.5,604.3 C846.4,605.2 839.6,607.4 836.0,610.0 C832.4,612.6 829.4,616.3 826.6,620.0 C823.9,623.7 821.3,627.9 819.5,632.0 C817.7,636.1 816.9,638.1 815.6,644.8 C814.3,651.5 812.4,662.8 811.5,672.0 C810.6,681.2 810.1,686.3 810.0,700.0 C809.9,713.7 810.1,735.8 811.0,754.0 C811.9,772.2 812.6,790.7 815.6,809.0 C818.6,827.3 822.4,845.7 829.3,864.0 C836.1,882.3 844.4,902.0 856.7,918.9 C869.0,935.8 886.4,953.5 903.3,965.4 C920.2,977.2 940.6,984.9 958.0,990.0 C975.4,995.1 991.5,996.0 1007.5,996.0 C1023.5,996.0 1037.1,995.1 1054.0,990.0 C1070.9,984.9 1092.0,977.2 1108.9,965.4 C1125.8,953.5 1142.6,935.8 1155.4,918.9 C1168.2,902.0 1178.5,882.3 1185.6,864.0 C1192.7,845.7 1195.4,827.3 1198.0,809.0 C1200.6,790.7 1200.7,772.2 1201.0,754.0 C1201.3,735.8 1200.4,713.7 1200.0,700.0 C1199.6,686.3 1199.4,681.2 1198.5,672.0 C1197.6,662.8 1195.7,651.5 1194.4,644.8 C1193.1,638.1 1192.3,636.1 1190.5,632.0 C1188.7,627.9 1186.2,623.7 1183.4,620.0 C1180.7,616.3 1177.7,612.6 1174.0,610.0 C1170.3,607.4 1163.2,605.2 1161.0,604.3Z" fill="none" stroke="url(#gSeeRim)" stroke-width="7" clip-path="url(#cpLB)"/>
<path d="M1003.2,883.8 C1009.9,883.8 1017.0,881.9 1023.2,880.4 C1029.4,878.8 1035.0,877.1 1040.2,874.5 C1045.4,871.9 1049.9,868.4 1054.2,864.7 C1058.5,860.9 1062.4,856.6 1066.2,851.9 C1070.0,847.2 1073.9,841.7 1077.2,836.2 C1080.5,830.6 1083.8,824.7 1086.2,818.5 C1088.6,812.3 1090.3,805.6 1091.7,798.9 C1093.1,792.2 1094.1,787.2 1094.7,778.2 C1095.3,769.2 1095.7,756.0 1095.5,744.9 C1095.3,733.7 1094.9,721.1 1093.7,711.5 C1092.5,701.8 1090.9,695.3 1088.2,686.9 C1085.5,678.6 1081.9,669.1 1077.7,661.4 C1073.5,653.7 1068.4,647.0 1063.2,640.8 C1058.0,634.5 1052.3,628.7 1046.7,624.1 C1041.1,619.5 1034.9,615.8 1029.7,613.3 C1024.4,610.8 1019.6,609.9 1015.2,609.0 C1010.8,608.1 1007.2,607.9 1003.2,607.9 C999.2,607.9 995.6,608.1 991.2,609.0 C986.8,609.9 982.0,610.8 976.7,613.3 C971.5,615.8 965.3,619.5 959.7,624.1 C954.1,628.7 948.4,634.5 943.2,640.8 C938.0,647.0 932.9,653.7 928.7,661.4 C924.5,669.1 920.9,678.6 918.2,686.9 C915.5,695.3 913.9,701.8 912.7,711.5 C911.5,721.1 911.1,733.7 910.9,744.9 C910.7,756.0 911.1,769.2 911.7,778.2 C912.3,787.2 913.3,792.2 914.7,798.9 C916.1,805.6 917.8,812.3 920.2,818.5 C922.6,824.7 925.9,830.6 929.2,836.2 C932.5,841.7 936.4,847.2 940.2,851.9 C944.0,856.6 947.9,860.9 952.2,864.7 C956.5,868.4 961.0,871.9 966.2,874.5 C971.4,877.1 977.0,878.8 983.2,880.4 C989.4,881.9 996.5,883.8 1003.2,883.8Z" fill="#3c3e46" opacity="0.52"/>
<path d="M1003.2,883.8 C1009.9,883.8 1017.0,881.9 1023.2,880.4 C1029.4,878.8 1035.0,877.1 1040.2,874.5 C1045.4,871.9 1049.9,868.4 1054.2,864.7 C1058.5,860.9 1062.4,856.6 1066.2,851.9 C1070.0,847.2 1073.9,841.7 1077.2,836.2 C1080.5,830.6 1083.8,824.7 1086.2,818.5 C1088.6,812.3 1090.3,805.6 1091.7,798.9 C1093.1,792.2 1094.1,787.2 1094.7,778.2 C1095.3,769.2 1095.7,756.0 1095.5,744.9 C1095.3,733.7 1094.9,721.1 1093.7,711.5 C1092.5,701.8 1090.9,695.3 1088.2,686.9 C1085.5,678.6 1081.9,669.1 1077.7,661.4 C1073.5,653.7 1068.4,647.0 1063.2,640.8 C1058.0,634.5 1052.3,628.7 1046.7,624.1 C1041.1,619.5 1034.9,615.8 1029.7,613.3 C1024.4,610.8 1019.6,609.9 1015.2,609.0 C1010.8,608.1 1007.2,607.9 1003.2,607.9 C999.2,607.9 995.6,608.1 991.2,609.0 C986.8,609.9 982.0,610.8 976.7,613.3 C971.5,615.8 965.3,619.5 959.7,624.1 C954.1,628.7 948.4,634.5 943.2,640.8 C938.0,647.0 932.9,653.7 928.7,661.4 C924.5,669.1 920.9,678.6 918.2,686.9 C915.5,695.3 913.9,701.8 912.7,711.5 C911.5,721.1 911.1,733.7 910.9,744.9 C910.7,756.0 911.1,769.2 911.7,778.2 C912.3,787.2 913.3,792.2 914.7,798.9 C916.1,805.6 917.8,812.3 920.2,818.5 C922.6,824.7 925.9,830.6 929.2,836.2 C932.5,841.7 936.4,847.2 940.2,851.9 C944.0,856.6 947.9,860.9 952.2,864.7 C956.5,868.4 961.0,871.9 966.2,874.5 C971.4,877.1 977.0,878.8 983.2,880.4 C989.4,881.9 996.5,883.8 1003.2,883.8Z" fill="none" stroke="#223" stroke-width="1" stroke-dasharray="4 2.5" opacity="0.5"/>
<path d="M981.8,621.5 C981.8,623.2 980.5,625.1 979.6,626.6 C978.8,628.0 977.8,629.7 976.7,630.3 C975.5,630.9 973.8,630.8 972.5,630.3 C971.3,629.8 969.9,628.5 969.1,627.1 C968.2,625.6 967.3,623.3 967.4,621.5 C967.5,619.7 968.6,617.7 969.5,616.3 C970.4,615.0 971.5,613.7 972.6,613.2 C973.8,612.7 975.3,612.9 976.5,613.4 C977.7,614.0 978.8,615.1 979.7,616.4 C980.5,617.7 981.8,619.8 981.8,621.5Z" fill="#2f6a3c" opacity="0.85"/>
<path d="M1038.8,621.5 C1038.8,623.1 1037.6,624.9 1036.8,626.4 C1036.0,627.9 1035.2,630.0 1034.1,630.5 C1033.0,630.9 1031.5,629.6 1030.2,629.1 C1028.9,628.5 1027.1,628.6 1026.2,627.3 C1025.3,626.1 1025.0,623.5 1025.0,621.5 C1025.0,619.5 1025.3,616.9 1026.2,615.6 C1027.0,614.3 1028.9,614.0 1030.2,613.7 C1031.4,613.4 1032.7,613.2 1033.8,613.7 C1034.9,614.2 1035.9,615.4 1036.8,616.7 C1037.6,618.0 1038.8,619.9 1038.8,621.5Z" fill="#2f6a3c" opacity="0.85"/>
<path d="M982.1,705.0 C982.3,706.7 981.5,709.3 980.6,710.7 C979.8,712.0 978.2,712.6 976.9,713.1 C975.6,713.7 974.1,714.5 972.9,714.0 C971.7,713.5 970.6,711.7 969.8,710.2 C969.1,708.7 968.3,706.8 968.2,705.0 C968.2,703.2 968.7,701.0 969.4,699.4 C970.2,697.8 971.5,696.2 972.8,695.6 C974.1,695.0 976.0,695.1 977.1,695.8 C978.3,696.6 978.9,698.7 979.7,700.3 C980.5,701.8 982.0,703.3 982.1,705.0Z" fill="#2f6a3c" opacity="0.85"/>
<path d="M957.0,669.0 L959.8,645.6 L964.7,654.4 L974.8,653.6Z" fill="#4f8f62" opacity="0.8"/>
<path d="M1014.0,673.0 L1006.3,650.7 L1014.6,656.5 L1023.3,651.3Z" fill="#6aa67c" opacity="0.7"/>
<path d="M1058.0,665.0 L1038.4,651.9 L1048.5,651.5 L1052.3,642.1Z" fill="#4f8f62" opacity="0.8"/>
<path d="M600,690 Q1005,726 1480,672 L1480,760 L600,760Z" fill="url(#gDarkBand)" filter="url(#fBlurBand)"/>
</g>
<g id="ub">
<path d="M856.0,599.2 C852.9,597.8 843.1,594.9 837.4,590.9 C831.7,586.9 825.9,581.8 821.6,575.1 C817.3,568.4 814.1,560.8 811.5,550.7 C808.9,540.7 807.1,527.9 805.8,514.8 C804.5,501.6 803.9,486.1 803.6,471.8 C803.3,457.5 803.7,440.7 804.2,428.7 C804.7,416.7 805.4,408.8 806.6,400.0 C807.8,391.2 809.7,383.4 811.5,375.8 C813.3,368.2 815.1,360.9 817.3,354.3 C819.4,347.7 821.8,342.4 824.4,336.4 C827.0,330.4 830.0,324.3 833.1,318.4 C836.2,312.5 839.5,306.8 843.1,301.2 C846.7,295.6 850.5,290.0 854.6,284.7 C858.7,279.4 862.7,274.9 867.5,269.6 C872.3,264.3 878.0,257.9 883.3,253.1 C888.6,248.3 893.1,245.1 899.1,240.9 C905.1,236.7 912.3,231.8 919.2,228.0 C926.1,224.2 932.3,221.1 940.7,218.0 C949.1,214.9 961.2,211.1 969.4,209.4 C977.6,207.7 981.8,207.8 990.0,207.9 C998.2,208.0 1009.1,208.3 1018.7,210.1 C1028.3,211.9 1037.8,214.9 1047.4,218.7 C1057.0,222.5 1067.0,227.5 1076.1,233.0 C1085.2,238.5 1093.5,244.6 1101.9,251.7 C1110.3,258.8 1118.6,266.7 1126.3,275.4 C1134.0,284.1 1141.4,294.3 1147.9,304.1 C1154.4,313.9 1160.1,324.2 1165.1,334.2 C1170.1,344.2 1174.3,354.5 1178.0,364.3 C1181.7,374.1 1184.5,379.9 1187.0,393.0 C1189.5,406.1 1191.9,427.5 1193.0,443.0 C1194.1,458.5 1193.9,472.9 1193.8,486.1 C1193.7,499.3 1193.4,511.2 1192.4,522.0 C1191.4,532.8 1190.2,542.3 1188.0,550.7 C1185.8,559.1 1183.2,565.8 1179.4,572.2 C1175.6,578.7 1170.8,584.6 1165.1,589.4 C1159.4,594.2 1149.3,598.6 1145.0,600.9 C1140.7,603.2 1140.2,602.9 1139.3,603.3Z" fill="url(#gBlueUp)"/>
<path d="M860.0,599.2 C857.4,597.8 849.2,594.9 844.5,590.9 C839.8,586.9 835.1,581.8 831.6,575.1 C828.1,568.4 825.9,560.8 823.7,550.7 C821.6,540.7 819.9,527.9 818.7,514.8 C817.5,501.6 816.6,486.1 816.5,471.8 C816.4,457.5 817.0,440.7 818.0,428.7 C819.0,416.7 820.5,408.6 822.5,400.0 C824.5,391.4 827.5,385.2 830.2,377.3 C832.9,369.4 835.4,361.0 838.8,352.9 C842.1,344.8 846.0,336.6 850.3,328.5 C854.6,320.4 859.1,312.0 864.6,304.1 C870.1,296.2 876.6,288.4 883.3,281.1 C890.0,273.8 896.4,266.6 904.8,260.3 C913.2,254.0 924.2,248.0 933.5,243.1 C942.8,238.2 951.4,233.9 960.8,230.9 C970.2,227.9 980.4,225.9 990.0,225.1 C999.6,224.3 1009.1,224.5 1018.7,225.9 C1028.3,227.3 1037.8,229.9 1047.4,233.7 C1057.0,237.5 1067.5,243.8 1076.1,248.8 C1084.7,253.8 1091.9,258.0 1099.1,263.9 C1106.3,269.8 1112.8,276.8 1119.2,284.0 C1125.7,291.2 1131.8,298.3 1137.8,306.9 C1143.8,315.5 1150.0,326.0 1155.0,335.6 C1160.0,345.2 1164.1,354.7 1168.0,364.3 C1171.9,373.9 1175.3,379.9 1178.5,393.0 C1181.7,406.1 1185.6,427.5 1187.3,443.0 C1189.0,458.5 1188.8,472.9 1188.8,486.1 C1188.8,499.3 1188.3,511.2 1187.3,522.0 C1186.3,532.8 1185.0,542.3 1183.0,550.7 C1181.0,559.1 1178.8,565.8 1175.1,572.2 C1171.4,578.7 1166.3,584.5 1160.8,589.4 C1155.3,594.3 1145.9,599.3 1142.1,601.6 C1138.3,603.9 1138.7,603.0 1138.0,603.3Z" fill="url(#gPurple)"/>
<path d="M860.0,599.2 C857.4,597.8 849.2,594.9 844.5,590.9 C839.8,586.9 835.1,581.8 831.6,575.1 C828.1,568.4 825.9,560.8 823.7,550.7 C821.6,540.7 819.9,527.9 818.7,514.8 C817.5,501.6 816.6,486.1 816.5,471.8 C816.4,457.5 817.0,440.7 818.0,428.7 C819.0,416.7 820.5,408.6 822.5,400.0 C824.5,391.4 827.5,385.2 830.2,377.3 C832.9,369.4 835.4,361.0 838.8,352.9 C842.1,344.8 846.0,336.6 850.3,328.5 C854.6,320.4 859.1,312.0 864.6,304.1 C870.1,296.2 876.6,288.4 883.3,281.1 C890.0,273.8 896.4,266.6 904.8,260.3 C913.2,254.0 924.2,248.0 933.5,243.1 C942.8,238.2 951.4,233.9 960.8,230.9 C970.2,227.9 980.4,225.9 990.0,225.1 C999.6,224.3 1009.1,224.5 1018.7,225.9 C1028.3,227.3 1037.8,229.9 1047.4,233.7 C1057.0,237.5 1067.5,243.8 1076.1,248.8 C1084.7,253.8 1091.9,258.0 1099.1,263.9 C1106.3,269.8 1112.8,276.8 1119.2,284.0 C1125.7,291.2 1131.8,298.3 1137.8,306.9 C1143.8,315.5 1150.0,326.0 1155.0,335.6 C1160.0,345.2 1164.1,354.7 1168.0,364.3 C1171.9,373.9 1175.3,379.9 1178.5,393.0 C1181.7,406.1 1185.6,427.5 1187.3,443.0 C1189.0,458.5 1188.8,472.9 1188.8,486.1 C1188.8,499.3 1188.3,511.2 1187.3,522.0 C1186.3,532.8 1185.0,542.3 1183.0,550.7 C1181.0,559.1 1178.8,565.8 1175.1,572.2 C1171.4,578.7 1166.3,584.5 1160.8,589.4 C1155.3,594.3 1145.9,599.3 1142.1,601.6 C1138.3,603.9 1138.7,603.0 1138.0,603.3Z" fill="url(#gPurpleBot)"/>
<g clip-path="url(#cpUBo)" fill="none" stroke="#4a3f78" stroke-width="1" opacity="0.10">
<ellipse cx="1000" cy="435.2" rx="22.8" ry="25.8"/><ellipse cx="1000" cy="434.4" rx="26.6" ry="30.1"/><ellipse cx="1000" cy="433.6" rx="30.4" ry="34.4"/><ellipse cx="1000" cy="432.8" rx="34.2" ry="38.7"/><ellipse cx="1000" cy="432.0" rx="38.0" ry="43.0"/><ellipse cx="1000" cy="431.2" rx="41.8" ry="47.3"/><ellipse cx="1000" cy="430.4" rx="45.6" ry="51.6"/><ellipse cx="1000" cy="429.6" rx="49.4" ry="55.9"/><ellipse cx="1000" cy="428.8" rx="53.2" ry="60.2"/><ellipse cx="1000" cy="428.0" rx="57.0" ry="64.5"/><ellipse cx="1000" cy="427.2" rx="60.8" ry="68.8"/><ellipse cx="1000" cy="426.4" rx="64.6" ry="73.1"/><ellipse cx="1000" cy="425.6" rx="68.4" ry="77.4"/><ellipse cx="1000" cy="424.8" rx="72.2" ry="81.7"/><ellipse cx="1000" cy="424.0" rx="76.0" ry="86.0"/><ellipse cx="1000" cy="423.2" rx="79.8" ry="90.3"/><ellipse cx="1000" cy="422.4" rx="83.6" ry="94.6"/><ellipse cx="1000" cy="421.6" rx="87.4" ry="98.9"/><ellipse cx="1000" cy="420.8" rx="91.2" ry="103.2"/><ellipse cx="1000" cy="420.0" rx="95.0" ry="107.5"/><ellipse cx="1000" cy="419.2" rx="98.8" ry="111.8"/><ellipse cx="1000" cy="418.4" rx="102.6" ry="116.1"/><ellipse cx="1000" cy="417.6" rx="106.4" ry="120.4"/><ellipse cx="1000" cy="416.8" rx="110.2" ry="124.7"/><ellipse cx="1000" cy="416.0" rx="114.0" ry="129.0"/><ellipse cx="1000" cy="415.2" rx="117.8" ry="133.3"/><ellipse cx="1000" cy="414.4" rx="121.6" ry="137.6"/><ellipse cx="1000" cy="413.6" rx="125.4" ry="141.9"/><ellipse cx="1000" cy="412.8" rx="129.2" ry="146.2"/><ellipse cx="1000" cy="412.0" rx="133.0" ry="150.5"/><ellipse cx="1000" cy="411.2" rx="136.8" ry="154.8"/><ellipse cx="1000" cy="410.4" rx="140.6" ry="159.1"/><ellipse cx="1000" cy="409.6" rx="144.4" ry="163.4"/><ellipse cx="1000" cy="408.8" rx="148.2" ry="167.7"/><ellipse cx="1000" cy="408.0" rx="152.0" ry="172.0"/><ellipse cx="1000" cy="407.2" rx="155.8" ry="176.3"/><ellipse cx="1000" cy="406.4" rx="159.6" ry="180.6"/><ellipse cx="1000" cy="405.6" rx="163.4" ry="184.9"/><ellipse cx="1000" cy="404.8" rx="167.2" ry="189.2"/><ellipse cx="1000" cy="404.0" rx="171.0" ry="193.5"/><ellipse cx="1000" cy="403.2" rx="174.8" ry="197.8"/><ellipse cx="1000" cy="402.4" rx="178.6" ry="202.1"/><ellipse cx="1000" cy="401.6" rx="182.4" ry="206.4"/><ellipse cx="1000" cy="400.8" rx="186.2" ry="210.7"/><ellipse cx="1000" cy="400.0" rx="190.0" ry="215.0"/><ellipse cx="1000" cy="399.2" rx="193.8" ry="219.3"/><ellipse cx="1000" cy="398.4" rx="197.6" ry="223.6"/><ellipse cx="1000" cy="397.6" rx="201.4" ry="227.9"/><ellipse cx="1000" cy="396.8" rx="205.2" ry="232.2"/><ellipse cx="1000" cy="396.0" rx="209.0" ry="236.5"/><ellipse cx="1000" cy="395.2" rx="212.8" ry="240.8"/><ellipse cx="1000" cy="394.4" rx="216.6" ry="245.1"/><ellipse cx="1000" cy="393.6" rx="220.4" ry="249.4"/><ellipse cx="1000" cy="392.8" rx="224.2" ry="253.7"/><ellipse cx="1000" cy="392.0" rx="228.0" ry="258.0"/><ellipse cx="1000" cy="391.2" rx="231.8" ry="262.3"/></g>
<path d="M856,599.5 L1000,601 L1140,603.3" stroke="#a8558f" stroke-width="2.2" fill="none"/>
<path d="M1002.6,323.5 C1009.3,323.5 1016.4,325.4 1022.6,327.0 C1028.8,328.6 1034.4,330.3 1039.6,333.0 C1044.8,335.7 1049.3,339.2 1053.6,343.0 C1057.9,346.8 1061.8,351.2 1065.6,356.0 C1069.4,360.8 1073.3,366.3 1076.6,372.0 C1079.9,377.7 1083.2,383.7 1085.6,390.0 C1088.0,396.3 1089.7,403.2 1091.1,410.0 C1092.5,416.8 1093.5,421.8 1094.1,431.0 C1094.7,440.2 1095.1,453.7 1094.9,465.0 C1094.7,476.3 1094.3,489.2 1093.1,499.0 C1091.9,508.8 1090.3,515.5 1087.6,524.0 C1084.9,532.5 1081.3,542.2 1077.1,550.0 C1072.9,557.8 1067.8,564.7 1062.6,571.0 C1057.4,577.3 1051.7,583.3 1046.1,588.0 C1040.5,592.7 1034.3,596.5 1029.1,599.0 C1023.8,601.5 1019.0,602.4 1014.6,603.3 C1010.2,604.2 1006.6,604.5 1002.6,604.5 C998.6,604.5 995.0,604.2 990.6,603.3 C986.2,602.4 981.4,601.5 976.1,599.0 C970.9,596.5 964.7,592.7 959.1,588.0 C953.5,583.3 947.8,577.3 942.6,571.0 C937.4,564.7 932.3,557.8 928.1,550.0 C923.9,542.2 920.3,532.5 917.6,524.0 C914.9,515.5 913.3,508.8 912.1,499.0 C910.9,489.2 910.5,476.3 910.3,465.0 C910.1,453.7 910.5,440.2 911.1,431.0 C911.7,421.8 912.7,416.8 914.1,410.0 C915.5,403.2 917.2,396.3 919.6,390.0 C922.0,383.7 925.3,377.7 928.6,372.0 C931.9,366.3 935.8,360.8 939.6,356.0 C943.4,351.2 947.3,346.8 951.6,343.0 C955.9,339.2 960.4,335.7 965.6,333.0 C970.8,330.3 976.4,328.6 982.6,327.0 C988.8,325.4 995.9,323.5 1002.6,323.5Z" fill="#c24f9f" stroke="#111" stroke-width="1.4" stroke-dasharray="4 2.5"/>
<path d="M988.9,336.4 C988.9,339.0 988.9,342.3 987.8,344.0 C986.6,345.7 984.0,346.1 982.1,346.6 C980.3,347.2 978.4,347.9 976.7,347.4 C974.9,346.9 972.4,345.6 971.5,343.7 C970.6,341.9 971.1,338.9 971.0,336.4 C971.0,333.9 970.3,330.7 971.2,328.8 C972.1,326.9 974.7,325.4 976.5,324.8 C978.4,324.3 980.4,324.9 982.3,325.5 C984.2,326.2 986.8,326.9 987.9,328.7 C989.0,330.5 988.9,333.8 988.9,336.4Z" fill="#2d6b25" />
<path d="M949.5,366.5 C949.2,368.9 948.9,371.3 947.9,373.1 C947.0,375.0 945.2,376.9 943.5,377.5 C941.9,378.1 939.9,377.3 938.1,376.7 C936.2,376.2 933.7,375.8 932.4,374.1 C931.2,372.4 930.6,368.9 930.8,366.5 C931.0,364.1 932.2,361.5 933.4,359.8 C934.6,358.1 936.4,357.1 938.1,356.4 C939.8,355.8 941.6,355.4 943.5,355.8 C945.3,356.2 948.2,356.9 949.2,358.7 C950.2,360.5 949.7,364.1 949.5,366.5Z" fill="#2d6b25" />
<path d="M1042.9,386.6 C1043.0,388.7 1041.9,390.9 1041.0,393.0 C1040.1,395.2 1039.0,398.5 1037.3,399.4 C1035.6,400.3 1032.7,399.5 1030.9,398.5 C1029.2,397.5 1027.7,395.3 1026.7,393.3 C1025.7,391.3 1024.7,388.8 1024.8,386.6 C1024.8,384.4 1026.1,382.2 1027.2,380.3 C1028.2,378.5 1029.6,376.1 1031.1,375.5 C1032.7,374.8 1035.0,375.6 1036.6,376.4 C1038.2,377.2 1039.7,378.7 1040.7,380.4 C1041.8,382.1 1042.9,384.5 1042.9,386.6Z" fill="#2d6b25" />
<path d="M1087.8,413.9 C1087.5,416.3 1086.7,418.5 1085.7,420.5 C1084.7,422.5 1083.4,425.2 1081.6,426.1 C1079.9,427.0 1077.2,426.8 1075.4,425.9 C1073.6,425.0 1071.8,422.9 1070.8,420.9 C1069.9,418.9 1069.8,416.1 1070.0,413.9 C1070.1,411.7 1070.8,409.7 1071.7,407.7 C1072.7,405.7 1073.8,403.1 1075.5,402.1 C1077.1,401.1 1079.7,401.2 1081.6,401.8 C1083.5,402.5 1086.0,404.1 1087.0,406.1 C1088.0,408.1 1088.0,411.5 1087.8,413.9Z" fill="#2d6b25" />
<path d="M930.8,432.5 C931.0,434.8 931.0,437.9 930.1,439.9 C929.1,442.0 927.0,444.1 925.2,444.8 C923.3,445.4 921.1,444.4 919.1,443.6 C917.2,442.9 914.6,442.1 913.6,440.2 C912.6,438.4 912.9,434.8 913.2,432.5 C913.5,430.2 914.2,427.9 915.2,426.3 C916.3,424.6 917.8,423.3 919.4,422.5 C921.0,421.7 923.3,420.7 924.9,421.3 C926.5,421.9 928.1,424.1 929.1,426.0 C930.1,427.8 930.6,430.2 930.8,432.5Z" fill="#2d6b25" />
<path d="M1118.5,449.8 C1118.8,452.1 1118.3,455.6 1117.1,457.6 C1116.0,459.7 1113.6,461.6 1111.8,462.1 C1109.9,462.5 1107.8,461.1 1105.9,460.3 C1104.0,459.5 1101.6,459.1 1100.4,457.3 C1099.2,455.6 1098.5,452.2 1098.6,449.8 C1098.8,447.4 1100.1,445.1 1101.2,443.0 C1102.4,441.0 1103.8,438.2 1105.5,437.6 C1107.1,436.9 1109.7,438.1 1111.3,439.2 C1113.0,440.2 1114.1,441.9 1115.3,443.6 C1116.5,445.4 1118.2,447.5 1118.5,449.8Z" fill="#2d6b25" />
<path d="M996.1,484.2 C996.2,486.4 995.2,489.1 994.2,491.1 C993.1,493.0 991.4,495.4 989.7,496.0 C988.0,496.6 985.9,495.5 984.0,494.9 C982.0,494.2 979.3,493.8 978.2,492.0 C977.1,490.2 977.2,486.7 977.3,484.2 C977.4,481.7 977.9,479.1 978.9,477.1 C980.0,475.0 981.8,472.2 983.5,471.7 C985.2,471.3 987.6,473.2 989.3,474.2 C991.0,475.2 992.5,476.2 993.6,477.9 C994.8,479.5 996.0,482.0 996.1,484.2Z" fill="#2d6b25" />
<path d="M1088.0,504.3 C1087.8,506.7 1086.8,509.2 1085.7,510.9 C1084.6,512.6 1082.8,513.8 1081.1,514.5 C1079.5,515.3 1077.4,515.9 1075.6,515.4 C1073.9,514.9 1071.8,513.3 1070.7,511.5 C1069.5,509.6 1068.9,506.7 1068.9,504.3 C1068.8,501.9 1069.3,498.6 1070.4,496.9 C1071.6,495.2 1074.1,495.2 1075.9,494.3 C1077.8,493.5 1079.8,491.6 1081.7,492.0 C1083.5,492.4 1085.8,494.6 1086.8,496.7 C1087.9,498.7 1088.2,501.9 1088.0,504.3Z" fill="#2d6b25" />
</g>
<g>
<path d="M967.2,526.5 L977.2,546.4 L969.5,545.3 L962.3,548.3Z" fill="#000" />
<path d="M972,548 L977,566" stroke="#000" stroke-width="1.2" stroke-dasharray="2 3"/>
<path d="M982.7,573.0 C982.6,574.4 982.4,576.0 981.6,576.9 C980.8,577.8 979.2,578.3 978.0,578.3 C976.8,578.3 975.2,577.9 974.4,577.0 C973.5,576.1 972.8,574.2 972.8,573.0 C972.9,571.8 974.0,570.4 974.9,569.6 C975.7,568.7 976.8,568.3 978.0,568.2 C979.2,568.1 981.1,568.0 981.8,568.8 C982.6,569.6 982.7,571.6 982.7,573.0Z" fill="#000"/>
<path d="M1001.5,525.0 L1010.2,545.7 L1002.1,543.5 L994.2,546.3Z" fill="#000" />
<path d="M1011.2,575.0 C1011.2,576.7 1010.5,579.0 1009.5,580.3 C1008.5,581.5 1006.5,582.5 1005.0,582.5 C1003.5,582.6 1001.3,581.8 1000.3,580.5 C999.2,579.3 998.6,576.8 998.6,575.0 C998.6,573.2 999.2,570.5 1000.3,569.5 C1001.4,568.5 1003.5,568.8 1005.0,568.9 C1006.5,569.0 1008.2,569.1 1009.2,570.1 C1010.2,571.1 1011.1,573.3 1011.2,575.0Z" fill="#000"/>
<path d="M1050.0,523.3 L1044.8,550.3 L1039.2,542.0 L1029.2,541.3Z" fill="#000" />
<path d="M1036,545 L1028,562" stroke="#222" stroke-width="0.8"/>
<path d="M1032.6,568.5 C1032.7,569.9 1032.7,572.3 1031.8,573.3 C1030.8,574.2 1028.5,574.0 1027.0,573.9 C1025.5,573.9 1023.4,573.9 1022.5,573.0 C1021.6,572.1 1021.6,569.9 1021.6,568.5 C1021.7,567.1 1022.1,565.7 1023.0,564.5 C1023.9,563.4 1025.7,561.7 1027.0,561.7 C1028.3,561.7 1030.0,563.4 1030.9,564.6 C1031.9,565.7 1032.4,567.1 1032.6,568.5Z" fill="#000"/>
<text x="1040" y="575.8" font-size="18.5" fill="#111">ACs</text>
<text x="975.8" y="431.6" font-size="19" font-weight="bold" fill="#111">FB</text>
<text x="1046" y="443" font-size="19" fill="#111">WCs</text>
<path d="M1117,452 L1133,455" stroke="#000" stroke-width="1.2" stroke-dasharray="2.5 2.5"/>
<path d="M1152.5,459.0 L1129.6,463.0 L1132.9,455.9 L1131.9,448.2Z" fill="#000" />
<path d="M1116,780 L1126,776" stroke="#000" stroke-width="1" stroke-dasharray="1.5 2"/>
<path d="M1152.0,766.0 L1130.7,782.7 L1135.1,772.8 L1125.1,768.8Z" fill="#000" />
<text transform="translate(1119,808) rotate(-17)" font-size="18" fill="#111">nRCs</text>
</g>
<g id="ms">
<path d="M476.5,1088.0 C488.6,1094.4 522.9,1111.7 549.0,1126.6 C575.1,1141.5 608.7,1158.8 633.0,1177.6 C657.3,1196.4 672.5,1218.4 695.0,1239.6 C717.5,1260.8 743.7,1285.6 768.0,1305.0 C792.3,1324.4 819.7,1343.5 841.0,1356.0 C862.3,1368.5 877.8,1372.3 896.0,1380.0 C914.2,1387.7 933.7,1396.2 950.0,1402.0 C966.3,1407.8 975.7,1411.8 994.0,1414.6 C1012.3,1417.4 1042.3,1417.2 1060.0,1419.0 C1077.7,1420.8 1091.4,1424.0 1100.0,1425.3 C1108.6,1426.6 1109.7,1426.5 1111.6,1426.7 L1111.6,1426.7 C1118.3,1422.6 1140.5,1410.0 1152.0,1402.1 C1163.5,1394.1 1172.2,1386.7 1180.9,1379.0 C1189.6,1371.3 1196.3,1363.6 1204.0,1355.9 C1211.7,1348.2 1218.5,1340.5 1227.2,1332.8 C1235.9,1325.1 1246.5,1317.9 1256.1,1309.7 C1265.7,1301.5 1276.3,1291.8 1285.0,1283.6 C1293.7,1275.4 1301.4,1268.7 1308.1,1260.5 C1314.8,1252.3 1320.1,1243.7 1325.4,1234.5 C1330.7,1225.3 1335.1,1217.2 1339.9,1205.6 C1344.7,1194.0 1350.0,1178.6 1354.3,1165.1 C1358.6,1151.6 1363.1,1135.7 1365.9,1124.7 C1368.7,1113.7 1370.0,1116.3 1371.0,1099.0 C1372.0,1081.7 1371.1,1042.7 1371.8,1020.8 C1372.5,998.9 1374.1,980.2 1375.0,967.6 C1375.9,955.0 1376.7,948.8 1377.0,945.0 L1475,968.4 C1474.3,971.5 1472.4,980.9 1471.0,987.0 C1469.6,993.1 1468.8,995.7 1466.5,1005.2 C1464.2,1014.8 1460.4,1030.7 1457.1,1044.3 C1453.8,1057.9 1450.1,1072.2 1446.5,1087.0 C1442.9,1101.8 1439.1,1118.5 1435.3,1133.4 C1431.5,1148.4 1427.6,1163.7 1423.7,1176.7 C1419.8,1189.7 1416.4,1200.3 1412.1,1211.4 C1407.8,1222.5 1403.5,1232.1 1397.7,1243.2 C1391.9,1254.3 1384.7,1265.9 1377.5,1277.9 C1370.3,1289.9 1362.0,1303.4 1354.3,1315.4 C1346.6,1327.4 1338.9,1339.0 1331.2,1350.1 C1323.5,1361.2 1315.8,1372.3 1308.1,1381.9 C1300.4,1391.5 1293.7,1399.2 1285.0,1407.9 C1276.3,1416.6 1266.7,1425.7 1256.1,1433.9 C1245.5,1442.1 1233.0,1450.8 1221.4,1457.1 C1209.8,1463.4 1199.7,1466.9 1186.7,1471.5 C1173.7,1476.1 1157.9,1481.4 1143.4,1484.5 C1129.0,1487.6 1113.9,1489.5 1100.0,1490.3 C1086.1,1491.0 1066.7,1489.2 1060.0,1489.0 C1050.8,1487.2 1023.3,1481.9 1005.0,1478.0 C986.7,1474.1 971.2,1470.8 950.0,1465.6 C928.8,1460.4 901.7,1454.3 877.5,1447.0 C853.3,1439.7 825.9,1431.0 804.6,1422.0 C783.4,1413.0 768.3,1406.1 750.0,1392.7 C731.7,1379.3 711.4,1356.2 695.0,1341.6 C678.6,1327.0 669.7,1318.9 651.5,1305.0 C633.3,1291.1 606.1,1273.8 586.0,1258.0 C565.9,1242.2 549.2,1227.7 531.0,1210.0 C512.8,1192.3 485.6,1161.7 476.5,1152.0Z" fill="url(#gMS)"/>
<g id="clumps">
<path d="M1375.0,958.2 C1376.0,950.1 1376.2,933.7 1383.6,925.4 C1391.0,917.1 1408.3,909.2 1419.5,908.2 C1430.7,907.2 1442.2,912.9 1450.8,919.1 C1459.4,925.4 1467.5,937.6 1471.2,945.7 C1474.9,953.8 1474.9,961.3 1472.8,967.6 C1470.7,973.9 1465.0,979.4 1458.7,983.3 C1452.4,987.2 1444.3,990.3 1435.2,991.1 C1426.1,991.9 1413.6,990.9 1403.9,988.0 C1394.2,985.1 1382.1,978.9 1377.3,973.9 C1372.5,968.9 1374.0,966.3 1375.0,958.2Z" fill="#ee665e"/>
<clipPath id="cpHead"><path d="M1375.0,958.2 C1376.0,950.1 1376.2,933.7 1383.6,925.4 C1391.0,917.1 1408.3,909.2 1419.5,908.2 C1430.7,907.2 1442.2,912.9 1450.8,919.1 C1459.4,925.4 1467.5,937.6 1471.2,945.7 C1474.9,953.8 1474.9,961.3 1472.8,967.6 C1470.7,973.9 1465.0,979.4 1458.7,983.3 C1452.4,987.2 1444.3,990.3 1435.2,991.1 C1426.1,991.9 1413.6,990.9 1403.9,988.0 C1394.2,985.1 1382.1,978.9 1377.3,973.9 C1372.5,968.9 1374.0,966.3 1375.0,958.2Z"/></clipPath>
<circle cx="1429" cy="942.6" r="48" fill="url(#gClump1)" clip-path="url(#cpHead)"/>
<path d="M1337.4,1067.8 C1338.3,1062.6 1340.1,1051.2 1344.4,1045.9 C1348.7,1040.6 1356.4,1036.2 1363.2,1035.7 C1370.0,1035.2 1378.8,1038.8 1385.1,1042.8 C1391.4,1046.8 1397.8,1054.5 1400.8,1060.0 C1403.8,1065.5 1405.2,1070.6 1403.1,1075.6 C1401.0,1080.5 1393.3,1086.7 1388.2,1089.7 C1383.1,1092.7 1379.1,1094.1 1372.6,1093.6 C1366.1,1093.1 1354.7,1089.3 1349.1,1086.6 C1343.5,1083.9 1341.0,1080.3 1339.0,1077.2 C1337.0,1074.1 1336.5,1073.0 1337.4,1067.8Z" fill="#ee665e"/>
<path d="M1337.4,1067.8 C1338.3,1062.6 1340.1,1051.2 1344.4,1045.9 C1348.7,1040.6 1356.4,1036.2 1363.2,1035.7 C1370.0,1035.2 1378.8,1038.8 1385.1,1042.8 C1391.4,1046.8 1397.8,1054.5 1400.8,1060.0 C1403.8,1065.5 1405.2,1070.6 1403.1,1075.6 C1401.0,1080.5 1393.3,1086.7 1388.2,1089.7 C1383.1,1092.7 1379.1,1094.1 1372.6,1093.6 C1366.1,1093.1 1354.7,1089.3 1349.1,1086.6 C1343.5,1083.9 1341.0,1080.3 1339.0,1077.2 C1337.0,1074.1 1336.5,1073.0 1337.4,1067.8Z" fill="url(#gClump2)"/>
</g>
</g>
<g fill="none" stroke="#f0f0f0">
<path d="M696,211 C760,212 830,222 885,248" stroke-width="1.5" stroke-dasharray="9 6 9 6 9 6 7 4 5 3 3 2 1.5 2 1.5 2 1.5 2 1.5 2 1.5 2 1.5 2 1.5 2 1.5 2 1.5 2 1.5 2 1.5 2 1.5 2 1.5 2 1.5 2 1.5 2 1.5 2 1.5 2 1.5 2 1.5 2 1.5 2 1.5 2 1.5 2 1.5 2 1.5 2 1.5 2 1.5 2 1.5 2 1.5 2 1.5 2 1.5 2 1.5 2 1.5 2 1.5 2 1.5 2 1.5 2 1.5 2 1.5 2 1.5 2 1.5 2 1.5 2 1.5 2 1.5 2 1.5 2 1.5 2 1.5 2 1.5 2 1.5 2 1.5 2 1.5 2 1.5 2 1.5 2 1.5 2 1.5 2 1.5 2 1.5 2 1.5 2 1.5 2 1.5 2 1.5 2 1.5 2 "/>
<path d="M789,316 C820,317 850,325 880,340" stroke-width="1.5" stroke-dasharray="7 5 5 3 3 2 1.5 2 1.5 2 1.5 2 1.5 2 1.5 2 1.5 2 1.5 2 1.5 2 1.5 2 1.5 2 1.5 2 1.5 2 1.5 2 1.5 2 1.5 2 1.5 2 1.5 2 1.5 2 1.5 2 1.5 2 1.5 2 1.5 2 1.5 2 1.5 2 1.5 2 1.5 2 1.5 2 1.5 2 1.5 2 1.5 2 1.5 2 1.5 2 1.5 2 1.5 2 1.5 2 1.5 2 1.5 2 1.5 2 1.5 2 1.5 2 "/>
</g>
<g fill="#fff" opacity="0.53">
<path d="M1001.0,606.5 L609.7,100.1 C610.1,99.6 610.9,98.0 611.6,96.9 C612.4,95.8 613.3,94.7 614.3,93.5 C615.3,92.4 616.5,91.3 617.8,90.1 C619.0,89.0 620.5,87.8 622.0,86.7 C623.5,85.5 625.2,84.3 627.0,83.1 C628.8,82.0 630.7,80.8 632.7,79.6 C634.7,78.4 636.9,77.2 639.1,76.0 C641.4,74.9 643.7,73.7 646.2,72.5 C648.7,71.3 651.2,70.2 653.9,69.0 C656.6,67.8 659.3,66.7 662.2,65.5 C665.1,64.4 668.0,63.2 671.1,62.1 C674.1,61.0 677.2,59.9 680.4,58.8 C683.7,57.7 686.9,56.6 690.3,55.6 C693.6,54.5 697.1,53.4 700.5,52.4 C704.0,51.4 707.6,50.4 711.2,49.4 C714.8,48.4 718.4,47.5 722.1,46.6 C725.8,45.6 729.6,44.7 733.3,43.8 C737.1,43.0 740.9,42.1 744.7,41.3 C748.6,40.5 752.4,39.7 756.3,38.9 C760.2,38.2 764.1,37.5 768.0,36.8 C771.9,36.1 775.8,35.4 779.7,34.8 C783.6,34.2 787.5,33.6 791.4,33.0 C795.2,32.5 799.1,32.0 803.0,31.5 C806.8,31.0 810.7,30.6 814.5,30.2 C818.2,29.8 822.0,29.4 825.7,29.1 C829.5,28.8 833.2,28.5 836.8,28.2 C840.4,28.0 844.0,27.8 847.5,27.6 C851.1,27.5 854.5,27.4 857.9,27.3 C861.3,27.2 864.7,27.2 867.9,27.2 C871.2,27.2 874.4,27.2 877.5,27.3 C880.6,27.4 883.6,27.5 886.6,27.7 C889.5,27.9 892.3,28.1 895.1,28.3 C897.8,28.6 900.5,28.9 903.0,29.2 C905.6,29.5 908.0,29.9 910.3,30.3 C912.7,30.7 914.9,31.2 917.0,31.7 C919.1,32.2 921.1,32.7 923.0,33.2 C924.9,33.8 926.6,34.4 928.2,35.0 C929.9,35.7 931.4,36.3 932.8,37.0 C934.1,37.7 935.4,38.5 936.5,39.2 C937.6,40.0 939.0,41.2 939.5,41.6Z" filter="url(#fBlur2)"/>
<path d="M1001.0,606.5 L1429.5,1291.5 C1429.3,1292.6 1429.6,1293.9 1428.5,1298.0 C1427.4,1302.1 1425.7,1309.0 1422.7,1316.3 C1419.7,1323.6 1416.1,1333.4 1410.7,1342.0 C1405.3,1350.6 1397.8,1359.8 1390.1,1367.8 C1382.4,1375.8 1373.0,1383.2 1364.4,1390.0 C1355.8,1396.8 1348.7,1401.7 1338.7,1408.9 C1328.7,1416.1 1315.9,1425.0 1304.4,1433.0 C1293.0,1441.0 1281.4,1449.0 1270.0,1457.0 C1258.6,1465.0 1247.2,1473.3 1235.8,1481.0 C1224.4,1488.7 1212.9,1496.5 1201.5,1503.3 C1190.1,1510.1 1175.8,1517.4 1167.2,1522.0 C1158.6,1526.6 1157.9,1526.7 1150.0,1530.7 C1142.1,1534.7 1125.0,1543.5 1120.0,1546.0 L1064,1546 Z" filter="url(#fBlur1)"/>
</g>
<g fill="none" stroke="#e8e8e8" stroke-width="1">
<ellipse cx="1248" cy="1406" rx="216.0" ry="46.6" transform="rotate(-32.45 1248 1406)" stroke-dasharray="5 2 1.2 2" opacity="0.75"/>
<path d="M1140.5,1426.7 C1195,1447 1290,1438 1357.2,1390.6" opacity="0.9" stroke-dasharray="7 2 1.5 2"/>
</g>
<g>
<polygon points="1013.7,610.1 1007.7,610.8 1010.7,616.1 1005.1,613.8 1005.1,619.8 1001.5,615.0 998.4,620.2 997.7,614.2 992.4,617.2 994.7,611.6 988.7,611.6 993.5,608.0 988.3,604.9 994.3,604.2 991.3,598.9 996.9,601.2 996.9,595.2 1000.5,600.0 1003.6,594.8 1004.3,600.8 1009.6,597.8 1007.3,603.4 1013.3,603.4 1008.5,607.0" fill="#f5a623"/>
<ellipse cx="1001.0" cy="607.5" rx="3.5" ry="8" fill="#fff3c8" transform="rotate(15 1001.0 607.5)" filter="url(#fBlur1)"/>
<line x1="1281.5" y1="607.1" x2="1293.4" y2="608.3" stroke="#f5b51e" stroke-width="1.6" stroke-linecap="round"/><line x1="1280.8" y1="609.3" x2="1287.4" y2="612.9" stroke="#f5b51e" stroke-width="1.6" stroke-linecap="round"/><line x1="1279.3" y1="611.1" x2="1286.9" y2="620.4" stroke="#f5b51e" stroke-width="1.6" stroke-linecap="round"/><line x1="1277.2" y1="612.2" x2="1279.4" y2="619.4" stroke="#f5b51e" stroke-width="1.6" stroke-linecap="round"/><line x1="1274.9" y1="612.5" x2="1273.7" y2="624.4" stroke="#f5b51e" stroke-width="1.6" stroke-linecap="round"/><line x1="1272.7" y1="611.8" x2="1269.1" y2="618.4" stroke="#f5b51e" stroke-width="1.6" stroke-linecap="round"/><line x1="1270.9" y1="610.3" x2="1261.6" y2="617.9" stroke="#f5b51e" stroke-width="1.6" stroke-linecap="round"/><line x1="1269.8" y1="608.2" x2="1262.6" y2="610.4" stroke="#f5b51e" stroke-width="1.6" stroke-linecap="round"/><line x1="1269.5" y1="605.9" x2="1257.6" y2="604.7" stroke="#f5b51e" stroke-width="1.6" stroke-linecap="round"/><line x1="1270.2" y1="603.7" x2="1263.6" y2="600.1" stroke="#f5b51e" stroke-width="1.6" stroke-linecap="round"/><line x1="1271.7" y1="601.9" x2="1264.1" y2="592.6" stroke="#f5b51e" stroke-width="1.6" stroke-linecap="round"/><line x1="1273.8" y1="600.8" x2="1271.6" y2="593.6" stroke="#f5b51e" stroke-width="1.6" stroke-linecap="round"/><line x1="1276.1" y1="600.5" x2="1277.3" y2="588.6" stroke="#f5b51e" stroke-width="1.6" stroke-linecap="round"/><line x1="1278.3" y1="601.2" x2="1281.9" y2="594.6" stroke="#f5b51e" stroke-width="1.6" stroke-linecap="round"/><line x1="1280.1" y1="602.7" x2="1289.4" y2="595.1" stroke="#f5b51e" stroke-width="1.6" stroke-linecap="round"/><line x1="1281.2" y1="604.8" x2="1288.4" y2="602.6" stroke="#f5b51e" stroke-width="1.6" stroke-linecap="round"/>
<circle cx="1275.5" cy="606.5" r="8.5" fill="url(#gSun)"/>
</g>
<g fill="none" stroke="#fff" stroke-width="1.8">
<path d="M1275.5,606.5 L1000,282" stroke-dasharray="10 5"/>
<path d="M1275.5,606.5 L1096,205" stroke-dasharray="10 5"/>
</g>
<path d="M987.0,265.0 L1009.9,279.7 L999.6,279.9 L997.7,290.0Z" fill="#fff" />
<path d="M1085.0,178.0 L1102.9,198.5 L1092.9,195.8 L1088.3,205.0Z" fill="#fff" />
<g fill="none" stroke="#eee" stroke-width="1.3">
<path d="M1205.3,600.0 C1205.5,597.7 1205.4,590.8 1206.2,586.2 C1207.0,581.6 1208.1,576.4 1210.0,572.2 C1211.9,568.0 1214.9,564.1 1217.5,560.9 C1220.1,557.7 1224.2,554.3 1225.5,553.0" stroke-dasharray="6 3 2 3"/>
<path d="M1228.5,601.2 C1228.7,598.7 1229.0,590.6 1229.7,586.2 C1230.4,581.8 1231.2,578.3 1232.5,575.0 C1233.8,571.7 1234.7,569.9 1237.2,566.6 C1239.7,563.3 1245.8,557.2 1247.5,555.3" stroke-dasharray="5 3 1.5 3"/>
</g>
<text x="1176" y="586.2" font-size="28.5" fill="#f2f2f2">50</text><text x="1204" y="571" font-size="10" fill="#cfd8cf" opacity="0.8">°</text>
<text x="1255.3" y="576" font-size="28.5" fill="#f2f2f2">75</text><text x="1286.5" y="560" font-size="10" fill="#cfd8cf" opacity="0.8">°</text>
<g stroke="#fff" stroke-width="1.6" fill="none"><line x1="1361.5" y1="329.5" x2="1361.5" y2="598.5"/><line x1="1351.5" y1="329.5" x2="1371.5" y2="329.5" stroke-width="2"/><line x1="1351.5" y1="598.5" x2="1371.5" y2="598.5" stroke-width="2"/></g><path d="M1361.5,330.5 L1368.8,350.5 L1361.5,350.5 L1354.2,350.5Z" fill="#fff" /><path d="M1361.5,597.5 L1354.2,577.5 L1361.5,577.5 L1368.8,577.5Z" fill="#fff" />
<g stroke="#fff" stroke-width="1.6" fill="none"><line x1="1437.0" y1="209.5" x2="1437.0" y2="598.5"/><line x1="1423.0" y1="209.5" x2="1451.0" y2="209.5" stroke-width="2"/><line x1="1424.0" y1="598.5" x2="1450.0" y2="598.5" stroke-width="2"/></g><path d="M1437.0,210.5 L1444.2,230.5 L1437.0,230.5 L1429.8,230.5Z" fill="#fff" /><path d="M1437.0,597.5 L1429.8,577.5 L1437.0,577.5 L1444.2,577.5Z" fill="#fff" />
<text transform="translate(1350.5,466) rotate(-90)" text-anchor="middle" font-size="28" fill="#fff">~8 kpc</text>
<text transform="translate(1432,403.5) rotate(-90)" text-anchor="middle" font-size="28.6" fill="#fff">~12 kpc</text>
<path d="M1276,640 L1268.3,1335" stroke="#e6e6e6" stroke-width="1.6" stroke-dasharray="9 4" fill="none"/>
<path d="M1277.0,627.0 L1284.0,649.0 L1277.0,643.5 L1270.0,649.0Z" fill="#e0e0e0" />
<path d="M1268.0,1352.0 L1260.0,1328.0 L1268.0,1334.0 L1276.0,1328.0Z" fill="#e0e0e0" />
<text transform="translate(1300,857) rotate(-90)" text-anchor="middle" font-size="24.5" fill="#fff">~55 kpc</text>
<path d="M944.0,1121.9 C946.3,1128.0 952.6,1145.8 957.6,1158.5 C962.6,1171.2 968.7,1185.6 974.3,1198.1 C979.9,1210.6 984.7,1221.8 991.0,1233.6 C997.3,1245.4 1004.2,1257.3 1011.9,1269.1 C1019.5,1280.9 1028.6,1294.2 1036.9,1304.6 C1045.2,1315.0 1053.7,1324.0 1062.0,1331.7 C1070.3,1339.4 1078.7,1344.8 1087.0,1350.5 C1095.3,1356.2 1103.4,1361.5 1112.1,1366.2 C1120.8,1370.9 1130.2,1375.5 1139.2,1378.7 C1148.2,1381.9 1157.6,1384.2 1166.3,1385.3 C1175.0,1386.4 1183.0,1386.4 1191.4,1385.3 C1199.8,1384.2 1207.8,1381.7 1216.5,1378.7 C1225.2,1375.7 1234.6,1371.9 1243.6,1367.2 C1252.6,1362.5 1262.0,1356.8 1270.7,1350.5 C1279.4,1344.2 1285.7,1339.3 1295.8,1329.6 C1305.9,1319.9 1321.5,1303.3 1331.2,1292.3 C1341.0,1281.3 1347.1,1273.5 1354.3,1263.4 C1361.5,1253.3 1368.3,1242.2 1374.6,1231.6 C1380.9,1221.0 1386.6,1210.9 1391.9,1199.8 C1397.2,1188.7 1402.1,1177.1 1406.4,1165.1 C1410.7,1153.1 1414.5,1140.1 1417.9,1127.6 C1421.3,1115.1 1423.7,1103.9 1426.6,1090.0 C1429.5,1076.1 1431.9,1061.0 1435.2,1044.3 C1438.5,1027.5 1442.8,1008.3 1446.2,989.5 C1449.6,970.7 1453.2,949.9 1455.5,931.6 C1457.8,913.4 1458.6,893.6 1460.2,880.0 C1461.8,866.4 1464.2,855.0 1465.0,850.0" fill="none" stroke="#fff" stroke-width="1.8" stroke-dasharray="15 9.5"/>
<use href="#clumps" opacity="0.8"/>
<text transform="translate(1495.8,845) rotate(-87.5)" text-anchor="middle" font-size="26" font-weight="bold" fill="#fff"><tspan font-style="italic">l</tspan> = 270°</text>
<text transform="translate(937.6,1188.9) rotate(68)" text-anchor="middle" font-size="25.5" letter-spacing="0.6" font-weight="bold" fill="#fff"><tspan font-style="italic">l</tspan> = 90°</text>
<text transform="translate(1095,1123.8) rotate(-19.5)" font-size="23.7" font-weight="bold" fill="#fff">Ionization</text>
<text transform="translate(1101.4,1147.5) rotate(-19.5)" font-size="23.7" font-weight="bold" fill="#fff">cone</text>
<text x="1230" y="1432.5" font-size="23.5" fill="#111" transform="rotate(-3 1230 1432)">60°</text>
<text transform="translate(767,1381) rotate(21)" font-size="23" font-style="italic" fill="#eee">MS</text>
<text x="590" y="207" font-size="24.7" fill="#e8e8e8">eROSITA</text>
<text x="590" y="234" font-size="24.7" fill="#e8e8e8">bubble</text>
<text x="637" y="294" font-size="24.7" fill="#e8e8e8">Loop I</text>
<text x="637" y="323" font-size="24.7" fill="#e8e8e8">(γ-ray, radio)</text>
<text x="1317.5" y="19" font-size="20.6" fill="#c8c8c8"><tspan font-size="17" dy="-1">©</tspan><tspan dy="1">Kartick Sarkar</tspan></text>
<text x="45.2" y="1382.5" font-size="47.2" fill="#fff">Sarkar 2024</text>
<path id="galPath" d="M583.5,652 C618,659.5 663,667.5 738,670" fill="none"/>
<text font-size="31.5" fill="#f4f4f4"><textPath href="#galPath"><tspan font-style="italic">The</tspan> Galaxy</textPath></text>
</svg></body></html>
